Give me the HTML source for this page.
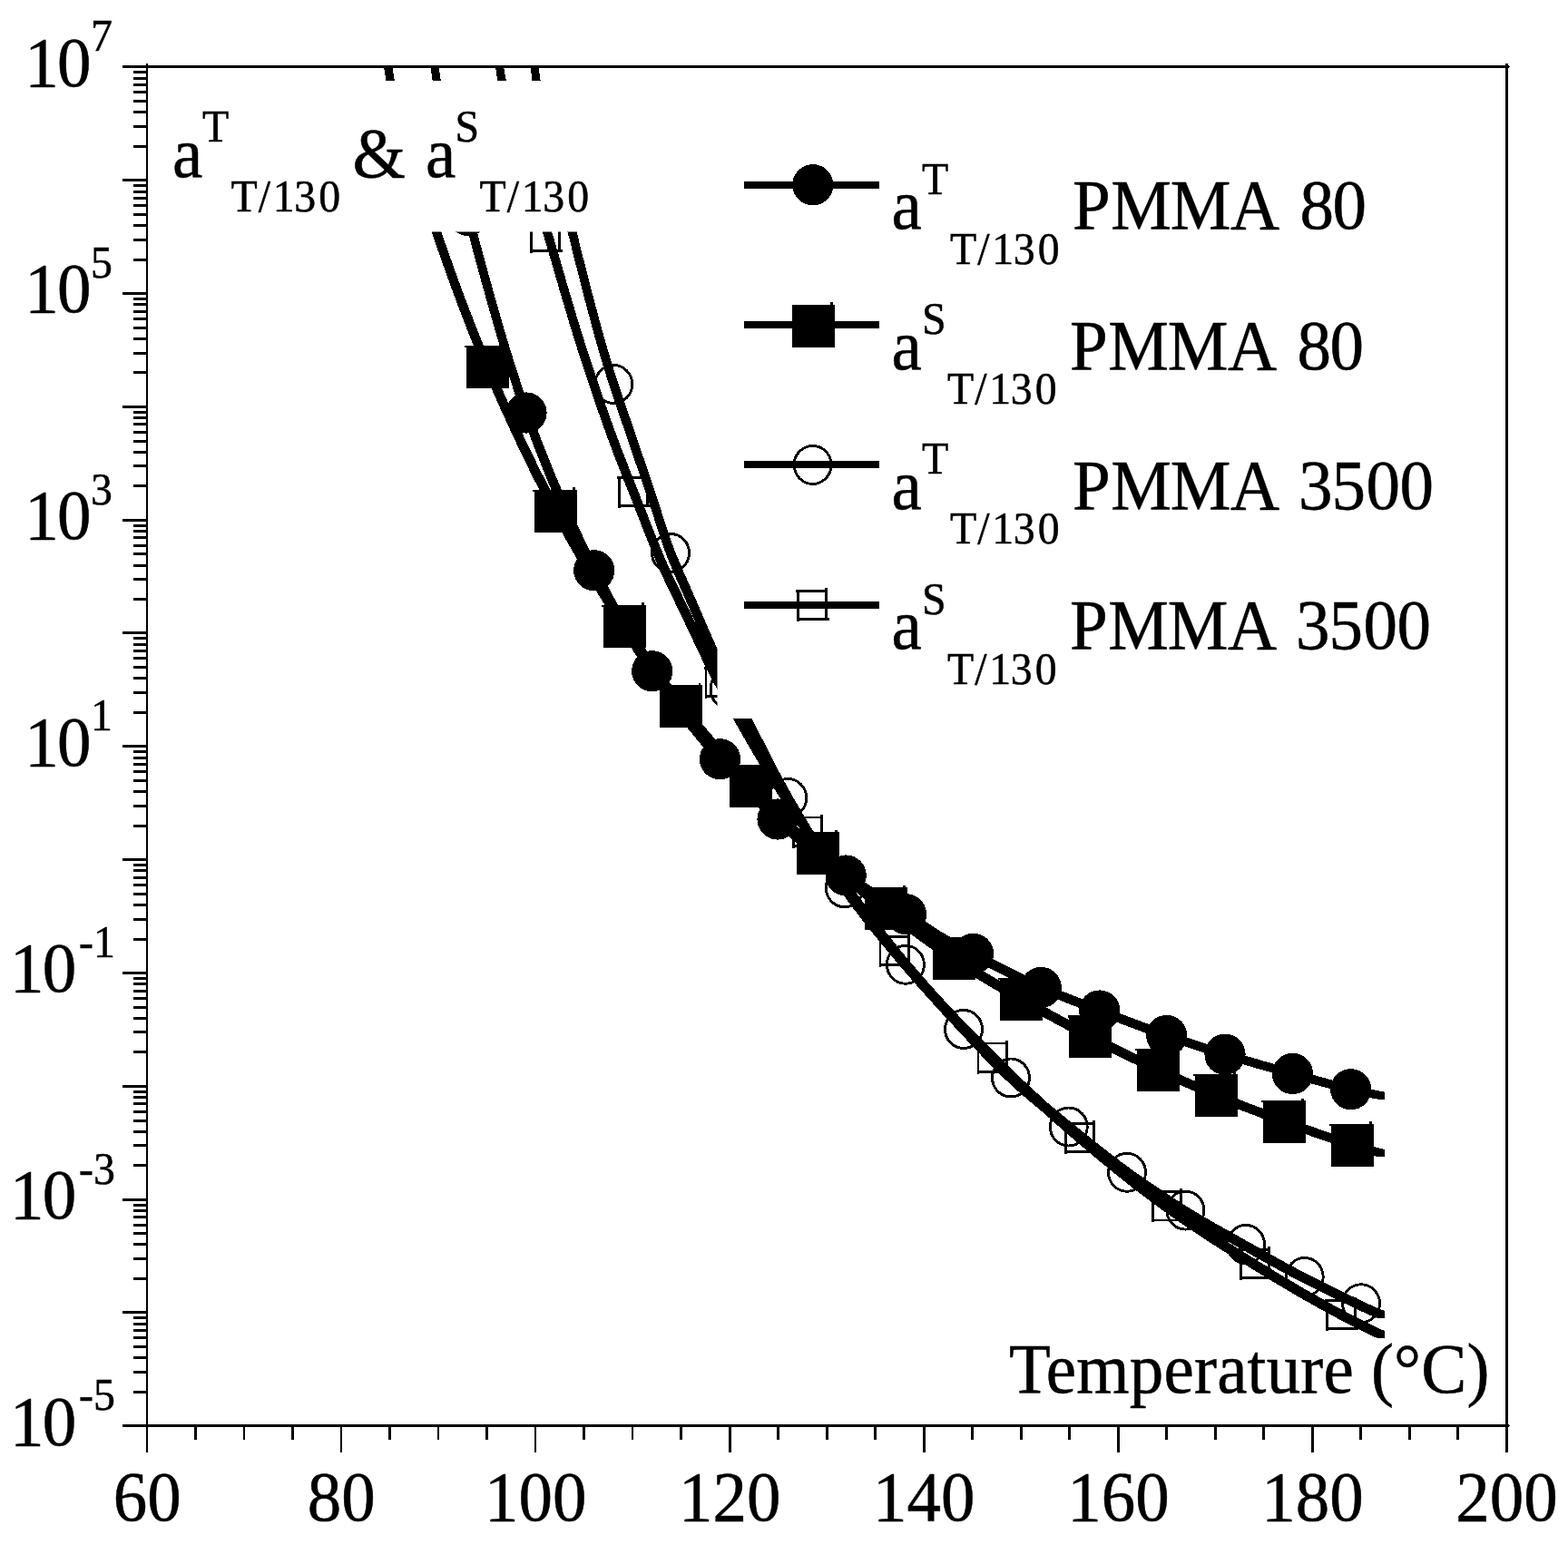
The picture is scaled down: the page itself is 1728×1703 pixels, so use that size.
<!DOCTYPE html>
<html lang="en"><head><meta charset="utf-8"><title>Shift factors PMMA</title>
<style>html,body{margin:0;padding:0;background:#fff;}body{width:1728px;height:1703px;overflow:hidden;}svg{display:block;}text{font-family:"Liberation Serif",serif;fill:#000;stroke:#000;stroke-width:0.5px;}</style>
</head><body>
<svg width="1728" height="1703" viewBox="0 0 1728 1703">
<rect x="0" y="0" width="1728" height="1703" fill="#fff"/>
<defs><clipPath id="plot"><rect x="162.15" y="73.5" width="1498.35" height="1497.85"/></clipPath></defs>
<g clip-path="url(#plot)" shape-rendering="crispEdges">
<path d="M584.00,244.00 H618.00 V278.00 H584.00 Z M586.80,246.80 V275.20 H615.20 V246.80 Z M615.20,242.00 h2.80 v2 h-2.80 Z M618.00,275.20 h2 v2.80 h-2 Z M584.00,278.00 h2.80 v1 h-2.80 Z M583.00,244.00 h1 v2.80 h-1 Z" fill="#000" fill-rule="evenodd"/>
<path d="M681.00,525.00 H715.00 V559.00 H681.00 Z M683.80,527.80 V556.20 H712.20 V527.80 Z M712.20,523.00 h2.80 v2 h-2.80 Z M715.00,556.20 h2 v2.80 h-2 Z M681.00,559.00 h2.80 v1 h-2.80 Z M680.00,525.00 h1 v2.80 h-1 Z" fill="#000" fill-rule="evenodd"/>
<path d="M776.50,735.00 H810.50 V769.00 H776.50 Z M779.30,737.80 V766.20 H807.70 V737.80 Z M807.70,733.00 h2.80 v2 h-2.80 Z M810.50,766.20 h2 v2.80 h-2 Z M776.50,769.00 h2.80 v1 h-2.80 Z M775.50,735.00 h1 v2.80 h-1 Z" fill="#000" fill-rule="evenodd"/>
<path d="M873.00,899.50 H907.00 V933.50 H873.00 Z M875.80,902.30 V930.70 H904.20 V902.30 Z M904.20,897.50 h2.80 v2 h-2.80 Z M907.00,930.70 h2 v2.80 h-2 Z M873.00,933.50 h2.80 v1 h-2.80 Z M872.00,899.50 h1 v2.80 h-1 Z" fill="#000" fill-rule="evenodd"/>
<path d="M968.60,1031.00 H1002.60 V1065.00 H968.60 Z M971.40,1033.80 V1062.20 H999.80 V1033.80 Z M999.80,1029.00 h2.80 v2 h-2.80 Z M1002.60,1062.20 h2 v2.80 h-2 Z M968.60,1065.00 h2.80 v1 h-2.80 Z M967.60,1031.00 h1 v2.80 h-1 Z" fill="#000" fill-rule="evenodd"/>
<path d="M1076.50,1148.50 H1110.50 V1182.50 H1076.50 Z M1079.30,1151.30 V1179.70 H1107.70 V1151.30 Z M1107.70,1146.50 h2.80 v2 h-2.80 Z M1110.50,1179.70 h2 v2.80 h-2 Z M1076.50,1182.50 h2.80 v1 h-2.80 Z M1075.50,1148.50 h1 v2.80 h-1 Z" fill="#000" fill-rule="evenodd"/>
<path d="M1173.00,1237.25 H1207.00 V1271.25 H1173.00 Z M1175.80,1240.05 V1268.45 H1204.20 V1240.05 Z M1204.20,1235.25 h2.80 v2 h-2.80 Z M1207.00,1268.45 h2 v2.80 h-2 Z M1173.00,1271.25 h2.80 v1 h-2.80 Z M1172.00,1237.25 h1 v2.80 h-1 Z" fill="#000" fill-rule="evenodd"/>
<path d="M1269.00,1312.40 H1303.00 V1346.40 H1269.00 Z M1271.80,1315.20 V1343.60 H1300.20 V1315.20 Z M1300.20,1310.40 h2.80 v2 h-2.80 Z M1303.00,1343.60 h2 v2.80 h-2 Z M1269.00,1346.40 h2.80 v1 h-2.80 Z M1268.00,1312.40 h1 v2.80 h-1 Z" fill="#000" fill-rule="evenodd"/>
<path d="M1366.00,1376.25 H1400.00 V1410.25 H1366.00 Z M1368.80,1379.05 V1407.45 H1397.20 V1379.05 Z M1397.20,1374.25 h2.80 v2 h-2.80 Z M1400.00,1407.45 h2 v2.80 h-2 Z M1366.00,1410.25 h2.80 v1 h-2.80 Z M1365.00,1376.25 h1 v2.80 h-1 Z" fill="#000" fill-rule="evenodd"/>
<path d="M1461.00,1432.25 H1495.00 V1466.25 H1461.00 Z M1463.80,1435.05 V1463.45 H1492.20 V1435.05 Z M1492.20,1430.25 h2.80 v2 h-2.80 Z M1495.00,1463.45 h2 v2.80 h-2 Z M1461.00,1466.25 h2.80 v1 h-2.80 Z M1460.00,1432.25 h1 v2.80 h-1 Z" fill="#000" fill-rule="evenodd"/>
<ellipse cx="676.25" cy="423.50" rx="20.45" ry="21" fill="none" stroke="#000" stroke-width="2.9"/>
<ellipse cx="739.00" cy="609.50" rx="20.45" ry="21" fill="none" stroke="#000" stroke-width="2.9"/>
<ellipse cx="803.50" cy="759.70" rx="20.45" ry="21" fill="none" stroke="#000" stroke-width="2.9"/>
<ellipse cx="868.25" cy="879.50" rx="20.45" ry="21" fill="none" stroke="#000" stroke-width="2.9"/>
<ellipse cx="930.75" cy="978.75" rx="20.45" ry="21" fill="none" stroke="#000" stroke-width="2.9"/>
<ellipse cx="997.90" cy="1063.25" rx="20.45" ry="21" fill="none" stroke="#000" stroke-width="2.9"/>
<ellipse cx="1062.00" cy="1134.50" rx="20.45" ry="21" fill="none" stroke="#000" stroke-width="2.9"/>
<ellipse cx="1114.00" cy="1188.00" rx="20.45" ry="21" fill="none" stroke="#000" stroke-width="2.9"/>
<ellipse cx="1177.75" cy="1242.00" rx="20.45" ry="21" fill="none" stroke="#000" stroke-width="2.9"/>
<ellipse cx="1242.00" cy="1292.25" rx="20.45" ry="21" fill="none" stroke="#000" stroke-width="2.9"/>
<ellipse cx="1306.40" cy="1334.10" rx="20.45" ry="21" fill="none" stroke="#000" stroke-width="2.9"/>
<ellipse cx="1373.00" cy="1371.50" rx="20.45" ry="21" fill="none" stroke="#000" stroke-width="2.9"/>
<ellipse cx="1437.75" cy="1407.50" rx="20.45" ry="21" fill="none" stroke="#000" stroke-width="2.9"/>
<ellipse cx="1500.00" cy="1436.75" rx="20.45" ry="21" fill="none" stroke="#000" stroke-width="2.9"/>
<path d="M418.0,36.0 L426.0,36.0 L428.9,53.1 L431.8,70.9 L434.7,88.3 L437.6,101.6 L440.5,114.1 L443.4,125.7 L446.3,136.8 L449.2,147.2 L452.1,157.0 L455.0,166.4 L457.9,175.4 L460.8,184.0 L463.7,192.3 L466.6,200.5 L469.5,208.5 L472.4,216.4 L475.3,224.3 L478.2,232.3 L481.1,240.4 L484.0,248.6 L486.9,257.1 L489.8,265.5 L492.7,273.9 L495.6,282.1 L498.5,290.3 L501.4,298.3 L504.3,306.3 L507.2,314.2 L510.1,322.1 L513.0,329.8 L515.9,337.5 L518.8,345.0 L521.7,352.5 L524.6,359.9 L527.5,367.2 L530.4,374.5 L533.3,381.6 L536.2,388.6 L539.1,395.6 L542.0,402.5 L544.9,409.3 L547.8,416.0 L550.7,422.7 L553.6,429.3 L556.5,435.9 L559.4,442.4 L562.3,448.8 L565.3,455.2 L568.2,461.6 L571.1,467.9 L574.0,474.1 L576.9,480.2 L579.8,486.4 L582.7,492.4 L585.6,498.4 L588.5,504.4 L591.4,510.3 L594.3,516.1 L597.2,521.9 L600.1,527.6 L603.0,533.3 L605.9,539.0 L608.8,544.6 L611.7,550.1 L614.6,555.6 L617.5,561.0 L620.4,566.4 L623.3,571.7 L626.2,577.0 L629.1,582.2 L632.0,587.4 L634.9,592.6 L637.8,597.7 L640.7,602.7 L643.6,607.7 L646.5,612.7 L649.4,617.6 L652.3,622.5 L655.2,627.4 L658.1,632.2 L661.0,637.0 L663.9,641.7 L666.8,646.4 L669.7,651.1 L672.6,655.7 L675.5,660.3 L678.4,664.9 L681.3,669.5 L684.2,674.0 L687.1,678.5 L690.0,682.9 L692.9,687.4 L695.8,691.8 L698.7,696.2 L701.6,700.5 L704.5,704.8 L707.4,709.1 L710.3,713.4 L713.2,717.6 L716.1,721.8 L719.0,725.9 L721.9,730.1 L724.8,734.2 L727.7,738.2 L730.6,742.2 L733.5,746.2 L736.4,750.2 L739.3,754.1 L742.2,758.0 L745.1,761.8 L748.0,765.6 L750.9,769.4 L753.8,773.1 L756.7,776.7 L759.6,780.4 L762.5,784.0 L765.4,787.6 L768.3,791.1 L771.2,794.6 L774.1,798.1 L777.0,801.6 L779.9,805.0 L782.8,808.4 L785.7,811.8 L788.6,815.1 L791.5,818.5 L794.4,821.8 L797.3,825.1 L800.2,828.3 L803.1,831.6 L806.0,834.8 L808.9,838.0 L811.8,841.2 L814.7,844.4 L817.6,847.5 L820.5,850.7 L823.4,853.8 L826.3,857.0 L829.2,860.1 L832.1,863.2 L835.0,866.3 L837.9,869.4 L840.9,872.4 L843.8,875.5 L846.7,878.5 L849.6,881.6 L852.5,884.6 L855.4,887.6 L858.3,890.6 L861.2,893.6 L864.1,896.5 L867.0,899.5 L869.9,902.4 L872.8,905.3 L875.7,908.2 L878.6,911.0 L881.5,913.9 L884.4,916.7 L887.3,919.5 L890.2,922.3 L893.1,925.0 L896.0,927.7 L898.9,930.4 L901.8,933.1 L904.7,935.7 L907.6,938.3 L910.5,940.9 L913.4,943.5 L916.3,946.0 L919.2,948.6 L922.1,951.1 L925.0,953.5 L927.9,956.0 L930.8,958.4 L933.7,960.9 L936.6,963.3 L939.5,965.7 L942.4,968.1 L945.3,970.4 L948.2,972.8 L951.1,975.1 L954.0,977.4 L956.9,979.7 L959.8,982.0 L962.7,984.3 L965.6,986.6 L968.5,988.8 L971.4,991.1 L974.3,993.3 L977.2,995.6 L980.1,997.8 L983.0,1000.1 L985.9,1002.3 L988.8,1004.5 L991.7,1006.7 L994.6,1008.9 L997.5,1011.1 L1000.4,1013.3 L1003.3,1015.4 L1006.2,1017.6 L1009.1,1019.8 L1012.0,1021.9 L1014.9,1024.0 L1017.8,1026.1 L1020.7,1028.2 L1023.6,1030.3 L1026.5,1032.4 L1029.4,1034.5 L1032.3,1036.5 L1035.2,1038.5 L1038.1,1040.6 L1041.0,1042.6 L1043.9,1044.6 L1046.8,1046.5 L1049.7,1048.5 L1052.6,1050.4 L1055.5,1052.3 L1058.4,1054.3 L1061.3,1056.1 L1064.2,1058.0 L1067.1,1059.9 L1070.0,1061.7 L1072.9,1063.5 L1075.8,1065.4 L1078.7,1067.2 L1081.6,1069.0 L1084.5,1070.7 L1087.4,1072.5 L1090.3,1074.3 L1093.2,1076.0 L1096.1,1077.8 L1099.0,1079.5 L1101.9,1081.2 L1104.8,1082.9 L1107.7,1084.6 L1110.6,1086.3 L1113.6,1088.0 L1116.5,1089.7 L1119.4,1091.4 L1122.3,1093.1 L1125.2,1094.8 L1128.1,1096.4 L1131.0,1098.1 L1133.9,1099.7 L1136.8,1101.4 L1139.7,1103.0 L1142.6,1104.7 L1145.5,1106.3 L1148.4,1107.9 L1151.3,1109.6 L1154.2,1111.2 L1157.1,1112.8 L1160.0,1114.4 L1162.9,1116.0 L1165.8,1117.6 L1168.7,1119.1 L1171.6,1120.7 L1174.5,1122.3 L1177.4,1123.8 L1180.3,1125.4 L1183.2,1126.9 L1186.1,1128.5 L1189.0,1130.0 L1191.9,1131.5 L1194.8,1133.1 L1197.7,1134.6 L1200.6,1136.1 L1203.5,1137.6 L1206.4,1139.1 L1209.3,1140.6 L1212.2,1142.1 L1215.1,1143.5 L1218.0,1145.0 L1220.9,1146.5 L1223.8,1147.9 L1226.7,1149.4 L1229.6,1150.8 L1232.5,1152.3 L1235.4,1153.7 L1238.3,1155.2 L1241.2,1156.6 L1244.1,1158.0 L1247.0,1159.4 L1249.9,1160.8 L1252.8,1162.2 L1255.7,1163.6 L1258.6,1165.0 L1261.5,1166.4 L1264.4,1167.8 L1267.3,1169.1 L1270.2,1170.5 L1273.1,1171.9 L1276.0,1173.2 L1278.9,1174.6 L1281.8,1175.9 L1284.7,1177.2 L1287.6,1178.6 L1290.5,1179.9 L1293.4,1181.2 L1296.3,1182.5 L1299.2,1183.8 L1302.1,1185.1 L1305.0,1186.4 L1307.9,1187.7 L1310.8,1189.0 L1313.7,1190.3 L1316.6,1191.5 L1319.5,1192.8 L1322.4,1194.0 L1325.3,1195.3 L1328.2,1196.5 L1331.1,1197.8 L1334.0,1199.0 L1336.9,1200.2 L1339.8,1201.4 L1342.7,1202.6 L1345.6,1203.8 L1348.5,1205.0 L1351.4,1206.2 L1354.3,1207.4 L1357.2,1208.5 L1360.1,1209.7 L1363.0,1210.9 L1365.9,1212.0 L1368.8,1213.2 L1371.7,1214.3 L1374.6,1215.4 L1377.5,1216.6 L1380.4,1217.7 L1383.3,1218.8 L1386.2,1219.9 L1389.2,1221.0 L1392.1,1222.1 L1395.0,1223.2 L1397.9,1224.3 L1400.8,1225.4 L1403.7,1226.5 L1406.6,1227.6 L1409.5,1228.7 L1412.4,1229.7 L1415.3,1230.8 L1418.2,1231.9 L1421.1,1232.9 L1424.0,1234.0 L1426.9,1235.0 L1429.8,1236.1 L1432.7,1237.1 L1435.6,1238.2 L1438.5,1239.2 L1441.4,1240.3 L1444.3,1241.3 L1447.2,1242.3 L1450.1,1243.3 L1453.0,1244.4 L1455.9,1245.4 L1458.8,1246.4 L1461.7,1247.4 L1464.6,1248.4 L1467.5,1249.4 L1470.4,1250.4 L1473.3,1251.3 L1476.2,1252.3 L1479.1,1253.3 L1482.0,1254.2 L1484.9,1255.1 L1487.8,1256.1 L1490.7,1257.0 L1493.6,1257.9 L1496.5,1258.8 L1499.4,1259.6 L1502.3,1260.5 L1505.2,1261.4 L1508.1,1262.2 L1511.0,1263.0 L1513.9,1263.9 L1516.8,1264.7 L1519.7,1265.5 L1522.6,1266.2 L1525.5,1267.0 L1525.5,1275.0 L1517.5,1275.0 L1514.6,1274.2 L1511.7,1273.5 L1508.8,1272.7 L1505.9,1271.9 L1503.0,1271.0 L1500.1,1270.2 L1497.2,1269.4 L1494.3,1268.5 L1491.4,1267.6 L1488.5,1266.8 L1485.6,1265.9 L1482.7,1265.0 L1479.8,1264.1 L1476.9,1263.1 L1474.0,1262.2 L1471.1,1261.3 L1468.2,1260.3 L1465.3,1259.3 L1462.4,1258.4 L1459.5,1257.4 L1456.6,1256.4 L1453.7,1255.4 L1450.8,1254.4 L1447.9,1253.4 L1445.0,1252.4 L1442.1,1251.3 L1439.2,1250.3 L1436.3,1249.3 L1433.4,1248.3 L1430.5,1247.2 L1427.6,1246.2 L1424.7,1245.1 L1421.8,1244.1 L1418.9,1243.0 L1416.0,1242.0 L1413.1,1240.9 L1410.2,1239.9 L1407.3,1238.8 L1404.4,1237.7 L1401.5,1236.7 L1398.6,1235.6 L1395.7,1234.5 L1392.8,1233.4 L1389.9,1232.3 L1387.0,1231.2 L1384.1,1230.1 L1381.2,1229.0 L1378.2,1227.9 L1375.3,1226.8 L1372.4,1225.7 L1369.5,1224.6 L1366.6,1223.4 L1363.7,1222.3 L1360.8,1221.2 L1357.9,1220.0 L1355.0,1218.9 L1352.1,1217.7 L1349.2,1216.5 L1346.3,1215.4 L1343.4,1214.2 L1340.5,1213.0 L1337.6,1211.8 L1334.7,1210.6 L1331.8,1209.4 L1328.9,1208.2 L1326.0,1207.0 L1323.1,1205.8 L1320.2,1204.5 L1317.3,1203.3 L1314.4,1202.0 L1311.5,1200.8 L1308.6,1199.5 L1305.7,1198.3 L1302.8,1197.0 L1299.9,1195.7 L1297.0,1194.4 L1294.1,1193.1 L1291.2,1191.8 L1288.3,1190.5 L1285.4,1189.2 L1282.5,1187.9 L1279.6,1186.6 L1276.7,1185.2 L1273.8,1183.9 L1270.9,1182.6 L1268.0,1181.2 L1265.1,1179.9 L1262.2,1178.5 L1259.3,1177.1 L1256.4,1175.8 L1253.5,1174.4 L1250.6,1173.0 L1247.7,1171.6 L1244.8,1170.2 L1241.9,1168.8 L1239.0,1167.4 L1236.1,1166.0 L1233.2,1164.6 L1230.3,1163.2 L1227.4,1161.7 L1224.5,1160.3 L1221.6,1158.8 L1218.7,1157.4 L1215.8,1155.9 L1212.9,1154.5 L1210.0,1153.0 L1207.1,1151.5 L1204.2,1150.1 L1201.3,1148.6 L1198.4,1147.1 L1195.5,1145.6 L1192.6,1144.1 L1189.7,1142.6 L1186.8,1141.1 L1183.9,1139.5 L1181.0,1138.0 L1178.1,1136.5 L1175.2,1134.9 L1172.3,1133.4 L1169.4,1131.8 L1166.5,1130.3 L1163.6,1128.7 L1160.7,1127.1 L1157.8,1125.6 L1154.9,1124.0 L1152.0,1122.4 L1149.1,1120.8 L1146.2,1119.2 L1143.3,1117.6 L1140.4,1115.9 L1137.5,1114.3 L1134.6,1112.7 L1131.7,1111.0 L1128.8,1109.4 L1125.9,1107.7 L1123.0,1106.1 L1120.1,1104.4 L1117.2,1102.8 L1114.3,1101.1 L1111.4,1099.4 L1108.5,1097.7 L1105.6,1096.0 L1102.6,1094.3 L1099.7,1092.6 L1096.8,1090.9 L1093.9,1089.2 L1091.0,1087.5 L1088.1,1085.8 L1085.2,1084.0 L1082.3,1082.3 L1079.4,1080.5 L1076.5,1078.7 L1073.6,1077.0 L1070.7,1075.2 L1067.8,1073.4 L1064.9,1071.5 L1062.0,1069.7 L1059.1,1067.9 L1056.2,1066.0 L1053.3,1064.1 L1050.4,1062.3 L1047.5,1060.3 L1044.6,1058.4 L1041.7,1056.5 L1038.8,1054.5 L1035.9,1052.6 L1033.0,1050.6 L1030.1,1048.6 L1027.2,1046.5 L1024.3,1044.5 L1021.4,1042.5 L1018.5,1040.4 L1015.6,1038.3 L1012.7,1036.2 L1009.8,1034.1 L1006.9,1032.0 L1004.0,1029.9 L1001.1,1027.8 L998.2,1025.6 L995.3,1023.4 L992.4,1021.3 L989.5,1019.1 L986.6,1016.9 L983.7,1014.7 L980.8,1012.5 L977.9,1010.3 L975.0,1008.1 L972.1,1005.8 L969.2,1003.6 L966.3,1001.3 L963.4,999.1 L960.5,996.8 L957.6,994.6 L954.7,992.3 L951.8,990.0 L948.9,987.7 L946.0,985.4 L943.1,983.1 L940.2,980.8 L937.3,978.4 L934.4,976.1 L931.5,973.7 L928.6,971.3 L925.7,968.9 L922.8,966.4 L919.9,964.0 L917.0,961.5 L914.1,959.1 L911.2,956.6 L908.3,954.0 L905.4,951.5 L902.5,948.9 L899.6,946.3 L896.7,943.7 L893.8,941.1 L890.9,938.4 L888.0,935.7 L885.1,933.0 L882.2,930.3 L879.3,927.5 L876.4,924.7 L873.5,921.9 L870.6,919.0 L867.7,916.2 L864.8,913.3 L861.9,910.4 L859.0,907.5 L856.1,904.5 L853.2,901.6 L850.3,898.6 L847.4,895.6 L844.5,892.6 L841.6,889.6 L838.7,886.5 L835.8,883.5 L832.9,880.4 L829.9,877.4 L827.0,874.3 L824.1,871.2 L821.2,868.1 L818.3,865.0 L815.4,861.8 L812.5,858.7 L809.6,855.5 L806.7,852.4 L803.8,849.2 L800.9,846.0 L798.0,842.8 L795.1,839.6 L792.2,836.3 L789.3,833.1 L786.4,829.8 L783.5,826.5 L780.6,823.1 L777.7,819.8 L774.8,816.4 L771.9,813.0 L769.0,809.6 L766.1,806.1 L763.2,802.6 L760.3,799.1 L757.4,795.6 L754.5,792.0 L751.6,788.4 L748.7,784.7 L745.8,781.1 L742.9,777.4 L740.0,773.6 L737.1,769.8 L734.2,766.0 L731.3,762.1 L728.4,758.2 L725.5,754.2 L722.6,750.2 L719.7,746.2 L716.8,742.2 L713.9,738.1 L711.0,733.9 L708.1,729.8 L705.2,725.6 L702.3,721.4 L699.4,717.1 L696.5,712.8 L693.6,708.5 L690.7,704.2 L687.8,699.8 L684.9,695.4 L682.0,690.9 L679.1,686.5 L676.2,682.0 L673.3,677.5 L670.4,672.9 L667.5,668.3 L664.6,663.7 L661.7,659.1 L658.8,654.4 L655.9,649.7 L653.0,645.0 L650.1,640.2 L647.2,635.4 L644.3,630.5 L641.4,625.6 L638.5,620.7 L635.6,615.7 L632.7,610.7 L629.8,605.7 L626.9,600.6 L624.0,595.4 L621.1,590.2 L618.2,585.0 L615.3,579.7 L612.4,574.4 L609.5,569.0 L606.6,563.6 L603.7,558.1 L600.8,552.6 L597.9,547.0 L595.0,541.3 L592.1,535.6 L589.2,529.9 L586.3,524.1 L583.4,518.3 L580.5,512.4 L577.6,506.4 L574.7,500.4 L571.8,494.4 L568.9,488.2 L566.0,482.1 L563.1,475.9 L560.2,469.6 L557.3,463.2 L554.3,456.8 L551.4,450.4 L548.5,443.9 L545.6,437.3 L542.7,430.7 L539.8,424.0 L536.9,417.3 L534.0,410.5 L531.1,403.6 L528.2,396.6 L525.3,389.6 L522.4,382.5 L519.5,375.2 L516.6,367.9 L513.7,360.5 L510.8,353.0 L507.9,345.5 L505.0,337.8 L502.1,330.1 L499.2,322.2 L496.3,314.3 L493.4,306.3 L490.5,298.3 L487.6,290.1 L484.7,281.9 L481.8,273.5 L478.9,265.1 L476.0,256.6 L473.1,248.4 L470.2,240.3 L467.3,232.3 L464.4,224.4 L461.5,216.5 L458.6,208.5 L455.7,200.3 L452.8,192.0 L449.9,183.4 L447.0,174.4 L444.1,165.0 L441.2,155.2 L438.3,144.8 L435.4,133.7 L432.5,122.1 L429.6,109.6 L426.7,96.3 L423.8,78.9 L420.9,61.1 L418.0,44.0Z" fill="#000"/>
<path d="M470.0,36.0 L478.0,36.0 L480.8,53.2 L483.5,73.2 L486.3,92.7 L489.1,108.3 L491.8,122.6 L494.6,135.9 L497.3,148.2 L500.1,159.8 L502.9,170.7 L505.6,181.2 L508.4,191.3 L511.2,201.2 L513.9,211.1 L516.7,221.2 L519.5,231.4 L522.2,242.0 L525.0,252.4 L527.7,262.8 L530.5,273.2 L533.3,283.5 L536.0,293.6 L538.8,303.8 L541.6,313.8 L544.3,323.7 L547.1,333.5 L549.9,343.2 L552.6,352.7 L555.4,362.2 L558.2,371.5 L560.9,380.7 L563.7,389.7 L566.4,398.6 L569.2,407.3 L572.0,415.8 L574.7,424.2 L577.5,432.4 L580.3,440.5 L583.0,448.3 L585.8,455.9 L588.6,463.5 L591.3,470.9 L594.1,478.2 L596.8,485.5 L599.6,492.6 L602.4,499.6 L605.1,506.5 L607.9,513.3 L610.7,520.1 L613.4,526.7 L616.2,533.2 L619.0,539.7 L621.7,546.1 L624.5,552.4 L627.2,558.6 L630.0,564.8 L632.8,570.8 L635.5,576.8 L638.3,582.8 L641.1,588.6 L643.8,594.4 L646.6,600.2 L649.4,605.9 L652.1,611.5 L654.9,617.1 L657.7,622.6 L660.4,628.0 L663.2,633.4 L665.9,638.8 L668.7,644.1 L671.5,649.3 L674.2,654.5 L677.0,659.6 L679.8,664.6 L682.5,669.6 L685.3,674.6 L688.1,679.5 L690.8,684.3 L693.6,689.0 L696.3,693.7 L699.1,698.4 L701.9,703.0 L704.6,707.5 L707.4,712.0 L710.2,716.4 L712.9,720.7 L715.7,725.0 L718.5,729.3 L721.2,733.5 L724.0,737.6 L726.7,741.7 L729.5,745.7 L732.3,749.7 L735.0,753.6 L737.8,757.5 L740.6,761.3 L743.3,765.1 L746.1,768.9 L748.9,772.6 L751.6,776.3 L754.4,779.9 L757.1,783.6 L759.9,787.1 L762.7,790.7 L765.4,794.2 L768.2,797.6 L771.0,801.1 L773.7,804.5 L776.5,807.9 L779.3,811.2 L782.0,814.6 L784.8,817.9 L787.6,821.1 L790.3,824.4 L793.1,827.6 L795.8,830.8 L798.6,834.0 L801.4,837.2 L804.1,840.3 L806.9,843.4 L809.7,846.5 L812.4,849.6 L815.2,852.6 L818.0,855.7 L820.7,858.6 L823.5,861.6 L826.2,864.5 L829.0,867.4 L831.8,870.3 L834.5,873.2 L837.3,876.0 L840.1,878.8 L842.8,881.6 L845.6,884.3 L848.4,887.0 L851.1,889.7 L853.9,892.3 L856.6,894.9 L859.4,897.5 L862.2,900.1 L864.9,902.6 L867.7,905.1 L870.5,907.6 L873.2,910.1 L876.0,912.6 L878.8,915.0 L881.5,917.4 L884.3,919.8 L887.1,922.2 L889.8,924.5 L892.6,926.9 L895.3,929.2 L898.1,931.5 L900.9,933.7 L903.6,936.0 L906.4,938.2 L909.2,940.4 L911.9,942.6 L914.7,944.8 L917.5,946.9 L920.2,949.1 L923.0,951.2 L925.7,953.3 L928.5,955.3 L931.3,957.4 L934.0,959.4 L936.8,961.4 L939.6,963.4 L942.3,965.3 L945.1,967.2 L947.9,969.1 L950.6,970.9 L953.4,972.7 L956.1,974.5 L958.9,976.3 L961.7,978.1 L964.4,979.8 L967.2,981.6 L970.0,983.3 L972.7,985.0 L975.5,986.7 L978.3,988.4 L981.0,990.1 L983.8,991.9 L986.5,993.6 L989.3,995.3 L992.1,997.1 L994.8,998.8 L997.6,1000.6 L1000.4,1002.4 L1003.1,1004.2 L1005.9,1006.0 L1008.7,1007.9 L1011.4,1009.8 L1014.2,1011.7 L1017.0,1013.6 L1019.7,1015.5 L1022.5,1017.4 L1025.2,1019.3 L1028.0,1021.1 L1030.8,1022.9 L1033.5,1024.7 L1036.3,1026.4 L1039.1,1028.0 L1041.8,1029.6 L1044.6,1031.1 L1047.4,1032.6 L1050.1,1034.0 L1052.9,1035.5 L1055.6,1036.8 L1058.4,1038.2 L1061.2,1039.6 L1063.9,1040.9 L1066.7,1042.3 L1069.5,1043.7 L1072.2,1045.1 L1075.0,1046.5 L1077.8,1047.9 L1080.5,1049.4 L1083.3,1050.9 L1086.0,1052.3 L1088.8,1053.8 L1091.6,1055.3 L1094.3,1056.9 L1097.1,1058.4 L1099.9,1059.8 L1102.6,1061.3 L1105.4,1062.8 L1108.2,1064.2 L1110.9,1065.7 L1113.7,1067.0 L1116.4,1068.4 L1119.2,1069.8 L1122.0,1071.1 L1124.7,1072.4 L1127.5,1073.8 L1130.3,1075.1 L1133.0,1076.3 L1135.8,1077.6 L1138.6,1078.9 L1141.3,1080.1 L1144.1,1081.4 L1146.9,1082.6 L1149.6,1083.8 L1152.4,1085.0 L1155.1,1086.2 L1157.9,1087.3 L1160.7,1088.5 L1163.4,1089.6 L1166.2,1090.7 L1169.0,1091.9 L1171.7,1093.0 L1174.5,1094.1 L1177.3,1095.2 L1180.0,1096.3 L1182.8,1097.3 L1185.5,1098.4 L1188.3,1099.5 L1191.1,1100.6 L1193.8,1101.6 L1196.6,1102.7 L1199.4,1103.7 L1202.1,1104.8 L1204.9,1105.9 L1207.7,1106.9 L1210.4,1108.0 L1213.2,1109.0 L1215.9,1110.1 L1218.7,1111.1 L1221.5,1112.2 L1224.2,1113.3 L1227.0,1114.3 L1229.8,1115.4 L1232.5,1116.4 L1235.3,1117.5 L1238.1,1118.5 L1240.8,1119.6 L1243.6,1120.6 L1246.4,1121.7 L1249.1,1122.7 L1251.9,1123.8 L1254.6,1124.8 L1257.4,1125.8 L1260.2,1126.9 L1262.9,1127.9 L1265.7,1128.9 L1268.5,1129.9 L1271.2,1130.9 L1274.0,1131.9 L1276.8,1132.9 L1279.5,1133.9 L1282.3,1134.9 L1285.0,1135.9 L1287.8,1136.8 L1290.6,1137.8 L1293.3,1138.7 L1296.1,1139.7 L1298.9,1140.6 L1301.6,1141.5 L1304.4,1142.5 L1307.2,1143.4 L1309.9,1144.3 L1312.7,1145.2 L1315.4,1146.1 L1318.2,1147.0 L1321.0,1147.9 L1323.7,1148.8 L1326.5,1149.7 L1329.3,1150.6 L1332.0,1151.4 L1334.8,1152.3 L1337.6,1153.2 L1340.3,1154.0 L1343.1,1154.9 L1345.8,1155.8 L1348.6,1156.6 L1351.4,1157.5 L1354.1,1158.3 L1356.9,1159.1 L1359.7,1160.0 L1362.4,1160.8 L1365.2,1161.6 L1368.0,1162.4 L1370.7,1163.2 L1373.5,1164.0 L1376.3,1164.8 L1379.0,1165.6 L1381.8,1166.4 L1384.5,1167.2 L1387.3,1168.0 L1390.1,1168.8 L1392.8,1169.6 L1395.6,1170.4 L1398.4,1171.1 L1401.1,1171.9 L1403.9,1172.7 L1406.7,1173.4 L1409.4,1174.2 L1412.2,1175.0 L1414.9,1175.8 L1417.7,1176.5 L1420.5,1177.3 L1423.2,1178.0 L1426.0,1178.8 L1428.8,1179.6 L1431.5,1180.3 L1434.3,1181.1 L1437.1,1181.9 L1439.8,1182.7 L1442.6,1183.4 L1445.3,1184.2 L1448.1,1185.0 L1450.9,1185.8 L1453.6,1186.6 L1456.4,1187.3 L1459.2,1188.1 L1461.9,1188.9 L1464.7,1189.6 L1467.5,1190.4 L1470.2,1191.1 L1473.0,1191.8 L1475.8,1192.6 L1478.5,1193.3 L1481.3,1194.0 L1484.0,1194.7 L1486.8,1195.3 L1489.6,1196.0 L1492.3,1196.7 L1495.1,1197.3 L1497.9,1197.9 L1500.6,1198.5 L1503.4,1199.1 L1506.2,1199.7 L1508.9,1200.2 L1511.7,1200.8 L1514.4,1201.3 L1517.2,1201.9 L1520.0,1202.4 L1522.7,1203.0 L1525.5,1203.5 L1525.5,1211.5 L1517.5,1211.5 L1514.7,1211.0 L1512.0,1210.4 L1509.2,1209.9 L1506.4,1209.3 L1503.7,1208.8 L1500.9,1208.2 L1498.2,1207.7 L1495.4,1207.1 L1492.6,1206.5 L1489.9,1205.9 L1487.1,1205.3 L1484.3,1204.7 L1481.6,1204.0 L1478.8,1203.3 L1476.0,1202.7 L1473.3,1202.0 L1470.5,1201.3 L1467.8,1200.6 L1465.0,1199.8 L1462.2,1199.1 L1459.5,1198.4 L1456.7,1197.6 L1453.9,1196.9 L1451.2,1196.1 L1448.4,1195.3 L1445.6,1194.6 L1442.9,1193.8 L1440.1,1193.0 L1437.3,1192.2 L1434.6,1191.4 L1431.8,1190.7 L1429.1,1189.9 L1426.3,1189.1 L1423.5,1188.3 L1420.8,1187.6 L1418.0,1186.8 L1415.2,1186.0 L1412.5,1185.3 L1409.7,1184.5 L1406.9,1183.8 L1404.2,1183.0 L1401.4,1182.2 L1398.7,1181.4 L1395.9,1180.7 L1393.1,1179.9 L1390.4,1179.1 L1387.6,1178.4 L1384.8,1177.6 L1382.1,1176.8 L1379.3,1176.0 L1376.5,1175.2 L1373.8,1174.4 L1371.0,1173.6 L1368.3,1172.8 L1365.5,1172.0 L1362.7,1171.2 L1360.0,1170.4 L1357.2,1169.6 L1354.4,1168.8 L1351.7,1168.0 L1348.9,1167.1 L1346.1,1166.3 L1343.4,1165.5 L1340.6,1164.6 L1337.8,1163.8 L1335.1,1162.9 L1332.3,1162.0 L1329.6,1161.2 L1326.8,1160.3 L1324.0,1159.4 L1321.3,1158.6 L1318.5,1157.7 L1315.7,1156.8 L1313.0,1155.9 L1310.2,1155.0 L1307.4,1154.1 L1304.7,1153.2 L1301.9,1152.3 L1299.2,1151.4 L1296.4,1150.5 L1293.6,1149.5 L1290.9,1148.6 L1288.1,1147.7 L1285.3,1146.7 L1282.6,1145.8 L1279.8,1144.8 L1277.0,1143.9 L1274.3,1142.9 L1271.5,1141.9 L1268.8,1140.9 L1266.0,1139.9 L1263.2,1138.9 L1260.5,1137.9 L1257.7,1136.9 L1254.9,1135.9 L1252.2,1134.9 L1249.4,1133.8 L1246.6,1132.8 L1243.9,1131.8 L1241.1,1130.7 L1238.4,1129.7 L1235.6,1128.6 L1232.8,1127.6 L1230.1,1126.5 L1227.3,1125.5 L1224.5,1124.4 L1221.8,1123.4 L1219.0,1122.3 L1216.2,1121.3 L1213.5,1120.2 L1210.7,1119.1 L1207.9,1118.1 L1205.2,1117.0 L1202.4,1116.0 L1199.7,1114.9 L1196.9,1113.9 L1194.1,1112.8 L1191.4,1111.7 L1188.6,1110.7 L1185.8,1109.6 L1183.1,1108.6 L1180.3,1107.5 L1177.5,1106.4 L1174.8,1105.3 L1172.0,1104.3 L1169.3,1103.2 L1166.5,1102.1 L1163.7,1101.0 L1161.0,1099.9 L1158.2,1098.7 L1155.4,1097.6 L1152.7,1096.5 L1149.9,1095.3 L1147.1,1094.2 L1144.4,1093.0 L1141.6,1091.8 L1138.9,1090.6 L1136.1,1089.4 L1133.3,1088.1 L1130.6,1086.9 L1127.8,1085.6 L1125.0,1084.3 L1122.3,1083.1 L1119.5,1081.8 L1116.7,1080.4 L1114.0,1079.1 L1111.2,1077.8 L1108.4,1076.4 L1105.7,1075.0 L1102.9,1073.7 L1100.2,1072.2 L1097.4,1070.8 L1094.6,1069.3 L1091.9,1067.8 L1089.1,1066.4 L1086.3,1064.9 L1083.6,1063.3 L1080.8,1061.8 L1078.0,1060.3 L1075.3,1058.9 L1072.5,1057.4 L1069.8,1055.9 L1067.0,1054.5 L1064.2,1053.1 L1061.5,1051.7 L1058.7,1050.3 L1055.9,1048.9 L1053.2,1047.6 L1050.4,1046.2 L1047.6,1044.8 L1044.9,1043.5 L1042.1,1042.0 L1039.4,1040.6 L1036.6,1039.1 L1033.8,1037.6 L1031.1,1036.0 L1028.3,1034.4 L1025.5,1032.7 L1022.8,1030.9 L1020.0,1029.1 L1017.2,1027.3 L1014.5,1025.4 L1011.7,1023.5 L1009.0,1021.6 L1006.2,1019.7 L1003.4,1017.8 L1000.7,1015.9 L997.9,1014.0 L995.1,1012.2 L992.4,1010.4 L989.6,1008.6 L986.8,1006.8 L984.1,1005.1 L981.3,1003.3 L978.5,1001.6 L975.8,999.9 L973.0,998.1 L970.3,996.4 L967.5,994.7 L964.7,993.0 L962.0,991.3 L959.2,989.6 L956.4,987.8 L953.7,986.1 L950.9,984.3 L948.1,982.5 L945.4,980.7 L942.6,978.9 L939.9,977.1 L937.1,975.2 L934.3,973.3 L931.6,971.4 L928.8,969.4 L926.0,967.4 L923.3,965.4 L920.5,963.3 L917.7,961.3 L915.0,959.2 L912.2,957.1 L909.5,954.9 L906.7,952.8 L903.9,950.6 L901.2,948.4 L898.4,946.2 L895.6,944.0 L892.9,941.7 L890.1,939.5 L887.3,937.2 L884.6,934.9 L881.8,932.5 L879.1,930.2 L876.3,927.8 L873.5,925.4 L870.8,923.0 L868.0,920.6 L865.2,918.1 L862.5,915.6 L859.7,913.1 L856.9,910.6 L854.2,908.1 L851.4,905.5 L848.6,902.9 L845.9,900.3 L843.1,897.7 L840.4,895.0 L837.6,892.3 L834.8,889.6 L832.1,886.8 L829.3,884.0 L826.5,881.2 L823.8,878.3 L821.0,875.4 L818.2,872.5 L815.5,869.6 L812.7,866.6 L810.0,863.7 L807.2,860.6 L804.4,857.6 L801.7,854.5 L798.9,851.4 L796.1,848.3 L793.4,845.2 L790.6,842.0 L787.8,838.8 L785.1,835.6 L782.3,832.4 L779.6,829.1 L776.8,825.9 L774.0,822.6 L771.3,819.2 L768.5,815.9 L765.7,812.5 L763.0,809.1 L760.2,805.6 L757.4,802.2 L754.7,798.7 L751.9,795.1 L749.1,791.6 L746.4,787.9 L743.6,784.3 L740.9,780.6 L738.1,776.9 L735.3,773.1 L732.6,769.3 L729.8,765.5 L727.0,761.6 L724.3,757.7 L721.5,753.7 L718.7,749.7 L716.0,745.6 L713.2,741.5 L710.5,737.3 L707.7,733.0 L704.9,728.7 L702.2,724.4 L699.4,720.0 L696.6,715.5 L693.9,711.0 L691.1,706.4 L688.3,701.7 L685.6,697.0 L682.8,692.3 L680.1,687.5 L677.3,682.6 L674.5,677.6 L671.8,672.6 L669.0,667.6 L666.2,662.5 L663.5,657.3 L660.7,652.1 L657.9,646.8 L655.2,641.4 L652.4,636.0 L649.7,630.6 L646.9,625.1 L644.1,619.5 L641.4,613.9 L638.6,608.2 L635.8,602.4 L633.1,596.6 L630.3,590.8 L627.5,584.8 L624.8,578.8 L622.0,572.8 L619.2,566.6 L616.5,560.4 L613.7,554.1 L611.0,547.7 L608.2,541.2 L605.4,534.7 L602.7,528.1 L599.9,521.3 L597.1,514.5 L594.4,507.6 L591.6,500.6 L588.8,493.5 L586.1,486.2 L583.3,478.9 L580.6,471.5 L577.8,463.9 L575.0,456.3 L572.3,448.5 L569.5,440.4 L566.7,432.2 L564.0,423.8 L561.2,415.3 L558.4,406.6 L555.7,397.7 L552.9,388.7 L550.2,379.5 L547.4,370.2 L544.6,360.7 L541.9,351.2 L539.1,341.5 L536.3,331.7 L533.6,321.8 L530.8,311.8 L528.0,301.6 L525.3,291.5 L522.5,281.2 L519.7,270.8 L517.0,260.4 L514.2,250.0 L511.5,239.4 L508.7,229.2 L505.9,219.1 L503.2,209.2 L500.4,199.3 L497.6,189.2 L494.9,178.7 L492.1,167.8 L489.3,156.2 L486.6,143.9 L483.8,130.6 L481.1,116.3 L478.3,100.7 L475.5,81.2 L472.8,61.2 L470.0,44.0Z" fill="#000"/>
<path d="M542.0,36.0 L550.0,36.0 L552.6,55.5 L555.1,73.5 L557.7,88.5 L560.3,100.3 L562.9,111.4 L565.4,121.9 L568.0,131.8 L570.6,141.1 L573.2,150.0 L575.7,158.4 L578.3,166.5 L580.9,174.3 L583.5,181.9 L586.0,189.3 L588.6,196.6 L591.2,203.9 L593.8,211.2 L596.3,218.6 L598.9,226.1 L601.5,233.9 L604.1,241.9 L606.6,250.2 L609.2,258.9 L611.8,267.6 L614.3,276.4 L616.9,285.2 L619.5,294.1 L622.1,302.9 L624.6,311.8 L627.2,320.6 L629.8,329.4 L632.4,338.1 L634.9,346.7 L637.5,355.2 L640.1,363.5 L642.7,371.8 L645.2,379.9 L647.8,387.9 L650.4,395.8 L653.0,403.6 L655.5,411.4 L658.1,419.1 L660.7,426.7 L663.3,434.3 L665.8,441.7 L668.4,449.1 L671.0,456.4 L673.5,463.7 L676.1,470.8 L678.7,477.9 L681.3,484.8 L683.8,491.7 L686.4,498.4 L689.0,505.0 L691.6,511.6 L694.1,518.1 L696.7,524.6 L699.3,531.1 L701.9,537.6 L704.4,544.2 L707.0,550.8 L709.6,557.3 L712.2,563.9 L714.7,570.5 L717.3,577.1 L719.9,583.6 L722.4,590.1 L725.0,596.5 L727.6,602.8 L730.2,609.0 L732.7,615.1 L735.3,621.1 L737.9,626.9 L740.5,632.6 L743.0,638.1 L745.6,643.4 L748.2,648.7 L750.8,653.9 L753.3,659.2 L755.9,664.6 L758.5,670.0 L761.1,675.4 L763.6,680.9 L766.2,686.3 L768.8,691.7 L771.4,697.2 L773.9,702.6 L776.5,708.0 L779.1,713.4 L781.6,718.8 L784.2,724.2 L786.8,729.4 L789.4,734.5 L791.9,739.5 L794.5,744.6 L797.1,749.5 L799.7,754.4 L802.2,759.3 L804.8,764.1 L807.4,768.9 L810.0,773.6 L812.5,778.2 L815.1,782.9 L817.7,787.4 L820.3,792.0 L822.8,796.5 L825.4,801.0 L828.0,805.5 L830.6,809.9 L833.1,814.4 L835.7,818.8 L838.3,823.2 L840.8,827.5 L843.4,831.9 L846.0,836.2 L848.6,840.5 L851.1,844.8 L853.7,849.0 L856.3,853.3 L858.9,857.5 L861.4,861.6 L864.0,865.8 L866.6,869.9 L869.2,874.1 L871.7,878.2 L874.3,882.2 L876.9,886.3 L879.5,890.3 L882.0,894.3 L884.6,898.2 L887.2,902.2 L889.8,906.1 L892.3,910.0 L894.9,913.8 L897.5,917.7 L900.0,921.5 L902.6,925.4 L905.2,929.2 L907.8,933.0 L910.3,936.7 L912.9,940.5 L915.5,944.3 L918.1,948.0 L920.6,951.7 L923.2,955.4 L925.8,959.1 L928.4,962.8 L930.9,966.4 L933.5,970.0 L936.1,973.7 L938.7,977.3 L941.2,980.8 L943.8,984.4 L946.4,987.9 L949.0,991.4 L951.5,994.9 L954.1,998.4 L956.7,1001.9 L959.2,1005.3 L961.8,1008.7 L964.4,1012.1 L967.0,1015.5 L969.5,1018.8 L972.1,1022.1 L974.7,1025.4 L977.3,1028.7 L979.8,1031.9 L982.4,1035.1 L985.0,1038.3 L987.6,1041.5 L990.1,1044.6 L992.7,1047.8 L995.3,1050.9 L997.9,1054.0 L1000.4,1057.0 L1003.0,1060.1 L1005.6,1063.1 L1008.2,1066.1 L1010.7,1069.1 L1013.3,1072.1 L1015.9,1075.0 L1018.4,1077.9 L1021.0,1080.9 L1023.6,1083.8 L1026.2,1086.7 L1028.7,1089.5 L1031.3,1092.4 L1033.9,1095.2 L1036.5,1098.0 L1039.0,1100.9 L1041.6,1103.7 L1044.2,1106.4 L1046.8,1109.2 L1049.3,1112.0 L1051.9,1114.7 L1054.5,1117.4 L1057.1,1120.2 L1059.6,1122.9 L1062.2,1125.6 L1064.8,1128.2 L1067.3,1130.9 L1069.9,1133.6 L1072.5,1136.2 L1075.1,1138.9 L1077.6,1141.5 L1080.2,1144.1 L1082.8,1146.7 L1085.4,1149.3 L1087.9,1151.9 L1090.5,1154.5 L1093.1,1157.1 L1095.7,1159.7 L1098.2,1162.2 L1100.8,1164.8 L1103.4,1167.3 L1106.0,1169.9 L1108.5,1172.4 L1111.1,1174.9 L1113.7,1177.4 L1116.3,1179.9 L1118.8,1182.3 L1121.4,1184.8 L1124.0,1187.3 L1126.5,1189.7 L1129.1,1192.1 L1131.7,1194.6 L1134.3,1197.0 L1136.8,1199.4 L1139.4,1201.8 L1142.0,1204.1 L1144.6,1206.5 L1147.1,1208.9 L1149.7,1211.2 L1152.3,1213.6 L1154.9,1215.9 L1157.4,1218.2 L1160.0,1220.5 L1162.6,1222.8 L1165.2,1225.1 L1167.7,1227.4 L1170.3,1229.7 L1172.9,1232.0 L1175.5,1234.2 L1178.0,1236.5 L1180.6,1238.7 L1183.2,1240.9 L1185.7,1243.2 L1188.3,1245.4 L1190.9,1247.6 L1193.5,1249.8 L1196.0,1252.0 L1198.6,1254.2 L1201.2,1256.4 L1203.8,1258.5 L1206.3,1260.7 L1208.9,1262.9 L1211.5,1265.0 L1214.1,1267.2 L1216.6,1269.3 L1219.2,1271.5 L1221.8,1273.6 L1224.4,1275.7 L1226.9,1277.8 L1229.5,1279.9 L1232.1,1282.0 L1234.7,1284.1 L1237.2,1286.2 L1239.8,1288.3 L1242.4,1290.3 L1244.9,1292.4 L1247.5,1294.4 L1250.1,1296.5 L1252.7,1298.5 L1255.2,1300.5 L1257.8,1302.5 L1260.4,1304.5 L1263.0,1306.5 L1265.5,1308.5 L1268.1,1310.4 L1270.7,1312.4 L1273.3,1314.3 L1275.8,1316.2 L1278.4,1318.1 L1281.0,1320.0 L1283.6,1321.9 L1286.1,1323.8 L1288.7,1325.7 L1291.3,1327.5 L1293.9,1329.4 L1296.4,1331.2 L1299.0,1333.0 L1301.6,1334.8 L1304.1,1336.6 L1306.7,1338.4 L1309.3,1340.2 L1311.9,1341.9 L1314.4,1343.7 L1317.0,1345.4 L1319.6,1347.2 L1322.2,1348.9 L1324.7,1350.6 L1327.3,1352.3 L1329.9,1354.0 L1332.5,1355.7 L1335.0,1357.4 L1337.6,1359.1 L1340.2,1360.7 L1342.8,1362.4 L1345.3,1364.1 L1347.9,1365.7 L1350.5,1367.4 L1353.1,1369.0 L1355.6,1370.6 L1358.2,1372.3 L1360.8,1373.9 L1363.3,1375.5 L1365.9,1377.1 L1368.5,1378.7 L1371.1,1380.3 L1373.6,1381.9 L1376.2,1383.5 L1378.8,1385.1 L1381.4,1386.7 L1383.9,1388.3 L1386.5,1389.9 L1389.1,1391.5 L1391.7,1393.1 L1394.2,1394.6 L1396.8,1396.2 L1399.4,1397.8 L1402.0,1399.3 L1404.5,1400.9 L1407.1,1402.5 L1409.7,1404.0 L1412.2,1405.6 L1414.8,1407.1 L1417.4,1408.6 L1420.0,1410.2 L1422.5,1411.7 L1425.1,1413.2 L1427.7,1414.7 L1430.3,1416.3 L1432.8,1417.8 L1435.4,1419.3 L1438.0,1420.8 L1440.6,1422.2 L1443.1,1423.7 L1445.7,1425.2 L1448.3,1426.7 L1450.9,1428.1 L1453.4,1429.6 L1456.0,1431.0 L1458.6,1432.5 L1461.2,1433.9 L1463.7,1435.3 L1466.3,1436.8 L1468.9,1438.2 L1471.4,1439.6 L1474.0,1441.0 L1476.6,1442.4 L1479.2,1443.7 L1481.7,1445.1 L1484.3,1446.5 L1486.9,1447.8 L1489.5,1449.2 L1492.0,1450.5 L1494.6,1451.8 L1497.2,1453.1 L1499.8,1454.4 L1502.3,1455.7 L1504.9,1457.0 L1507.5,1458.3 L1510.1,1459.6 L1512.6,1460.8 L1515.2,1462.1 L1517.8,1463.3 L1520.4,1464.5 L1522.9,1465.7 L1525.5,1466.9 L1525.5,1474.9 L1517.5,1474.9 L1514.9,1473.7 L1512.4,1472.5 L1509.8,1471.3 L1507.2,1470.1 L1504.6,1468.8 L1502.1,1467.6 L1499.5,1466.3 L1496.9,1465.0 L1494.3,1463.7 L1491.8,1462.4 L1489.2,1461.1 L1486.6,1459.8 L1484.0,1458.5 L1481.5,1457.2 L1478.9,1455.8 L1476.3,1454.5 L1473.7,1453.1 L1471.2,1451.7 L1468.6,1450.4 L1466.0,1449.0 L1463.4,1447.6 L1460.9,1446.2 L1458.3,1444.8 L1455.7,1443.3 L1453.2,1441.9 L1450.6,1440.5 L1448.0,1439.0 L1445.4,1437.6 L1442.9,1436.1 L1440.3,1434.7 L1437.7,1433.2 L1435.1,1431.7 L1432.6,1430.2 L1430.0,1428.8 L1427.4,1427.3 L1424.8,1425.8 L1422.3,1424.3 L1419.7,1422.7 L1417.1,1421.2 L1414.5,1419.7 L1412.0,1418.2 L1409.4,1416.6 L1406.8,1415.1 L1404.2,1413.6 L1401.7,1412.0 L1399.1,1410.5 L1396.5,1408.9 L1394.0,1407.3 L1391.4,1405.8 L1388.8,1404.2 L1386.2,1402.6 L1383.7,1401.1 L1381.1,1399.5 L1378.5,1397.9 L1375.9,1396.3 L1373.4,1394.7 L1370.8,1393.1 L1368.2,1391.5 L1365.6,1389.9 L1363.1,1388.3 L1360.5,1386.7 L1357.9,1385.1 L1355.3,1383.5 L1352.8,1381.9 L1350.2,1380.3 L1347.6,1378.6 L1345.1,1377.0 L1342.5,1375.4 L1339.9,1373.7 L1337.3,1372.1 L1334.8,1370.4 L1332.2,1368.7 L1329.6,1367.1 L1327.0,1365.4 L1324.5,1363.7 L1321.9,1362.0 L1319.3,1360.3 L1316.7,1358.6 L1314.2,1356.9 L1311.6,1355.2 L1309.0,1353.4 L1306.4,1351.7 L1303.9,1349.9 L1301.3,1348.2 L1298.7,1346.4 L1296.1,1344.6 L1293.6,1342.8 L1291.0,1341.0 L1288.4,1339.2 L1285.9,1337.4 L1283.3,1335.5 L1280.7,1333.7 L1278.1,1331.8 L1275.6,1329.9 L1273.0,1328.0 L1270.4,1326.1 L1267.8,1324.2 L1265.3,1322.3 L1262.7,1320.4 L1260.1,1318.4 L1257.5,1316.5 L1255.0,1314.5 L1252.4,1312.5 L1249.8,1310.5 L1247.2,1308.5 L1244.7,1306.5 L1242.1,1304.5 L1239.5,1302.4 L1236.9,1300.4 L1234.4,1298.3 L1231.8,1296.3 L1229.2,1294.2 L1226.7,1292.1 L1224.1,1290.0 L1221.5,1287.9 L1218.9,1285.8 L1216.4,1283.7 L1213.8,1281.6 L1211.2,1279.5 L1208.6,1277.3 L1206.1,1275.2 L1203.5,1273.0 L1200.9,1270.9 L1198.3,1268.7 L1195.8,1266.5 L1193.2,1264.4 L1190.6,1262.2 L1188.0,1260.0 L1185.5,1257.8 L1182.9,1255.6 L1180.3,1253.4 L1177.7,1251.2 L1175.2,1248.9 L1172.6,1246.7 L1170.0,1244.5 L1167.5,1242.2 L1164.9,1240.0 L1162.3,1237.7 L1159.7,1235.4 L1157.2,1233.1 L1154.6,1230.8 L1152.0,1228.5 L1149.4,1226.2 L1146.9,1223.9 L1144.3,1221.6 L1141.7,1219.2 L1139.1,1216.9 L1136.6,1214.5 L1134.0,1212.1 L1131.4,1209.8 L1128.8,1207.4 L1126.3,1205.0 L1123.7,1202.6 L1121.1,1200.1 L1118.5,1197.7 L1116.0,1195.3 L1113.4,1192.8 L1110.8,1190.3 L1108.3,1187.9 L1105.7,1185.4 L1103.1,1182.9 L1100.5,1180.4 L1098.0,1177.9 L1095.4,1175.3 L1092.8,1172.8 L1090.2,1170.2 L1087.7,1167.7 L1085.1,1165.1 L1082.5,1162.5 L1079.9,1159.9 L1077.4,1157.3 L1074.8,1154.7 L1072.2,1152.1 L1069.6,1149.5 L1067.1,1146.9 L1064.5,1144.2 L1061.9,1141.6 L1059.3,1138.9 L1056.8,1136.2 L1054.2,1133.6 L1051.6,1130.9 L1049.1,1128.2 L1046.5,1125.4 L1043.9,1122.7 L1041.3,1120.0 L1038.8,1117.2 L1036.2,1114.4 L1033.6,1111.7 L1031.0,1108.9 L1028.5,1106.0 L1025.9,1103.2 L1023.3,1100.4 L1020.7,1097.5 L1018.2,1094.7 L1015.6,1091.8 L1013.0,1088.9 L1010.4,1085.9 L1007.9,1083.0 L1005.3,1080.1 L1002.7,1077.1 L1000.2,1074.1 L997.6,1071.1 L995.0,1068.1 L992.4,1065.0 L989.9,1062.0 L987.3,1058.9 L984.7,1055.8 L982.1,1052.6 L979.6,1049.5 L977.0,1046.3 L974.4,1043.1 L971.8,1039.9 L969.3,1036.7 L966.7,1033.4 L964.1,1030.1 L961.5,1026.8 L959.0,1023.5 L956.4,1020.1 L953.8,1016.7 L951.2,1013.3 L948.7,1009.9 L946.1,1006.4 L943.5,1002.9 L941.0,999.4 L938.4,995.9 L935.8,992.4 L933.2,988.8 L930.7,985.3 L928.1,981.7 L925.5,978.0 L922.9,974.4 L920.4,970.8 L917.8,967.1 L915.2,963.4 L912.6,959.7 L910.1,956.0 L907.5,952.3 L904.9,948.5 L902.3,944.7 L899.8,941.0 L897.2,937.2 L894.6,933.4 L892.0,929.5 L889.5,925.7 L886.9,921.8 L884.3,918.0 L881.8,914.1 L879.2,910.2 L876.6,906.2 L874.0,902.3 L871.5,898.3 L868.9,894.3 L866.3,890.2 L863.7,886.2 L861.2,882.1 L858.6,877.9 L856.0,873.8 L853.4,869.6 L850.9,865.5 L848.3,861.3 L845.7,857.0 L843.1,852.8 L840.6,848.5 L838.0,844.2 L835.4,839.9 L832.8,835.5 L830.3,831.2 L827.7,826.8 L825.1,822.4 L822.6,817.9 L820.0,813.5 L817.4,809.0 L814.8,804.5 L812.3,800.0 L809.7,795.4 L807.1,790.9 L804.5,786.2 L802.0,781.6 L799.4,776.9 L796.8,772.1 L794.2,767.3 L791.7,762.4 L789.1,757.5 L786.5,752.6 L783.9,747.5 L781.4,742.5 L778.8,737.4 L776.2,732.2 L773.6,726.8 L771.1,721.4 L768.5,716.0 L765.9,710.6 L763.4,705.2 L760.8,699.7 L758.2,694.3 L755.6,688.9 L753.1,683.4 L750.5,678.0 L747.9,672.6 L745.3,667.2 L742.8,661.9 L740.2,656.7 L737.6,651.4 L735.0,646.1 L732.5,640.6 L729.9,634.9 L727.3,629.1 L724.7,623.1 L722.2,617.0 L719.6,610.8 L717.0,604.5 L714.4,598.1 L711.9,591.6 L709.3,585.1 L706.7,578.5 L704.2,571.9 L701.6,565.3 L699.0,558.8 L696.4,552.2 L693.9,545.6 L691.3,539.1 L688.7,532.6 L686.1,526.1 L683.6,519.6 L681.0,513.0 L678.4,506.4 L675.8,499.7 L673.3,492.8 L670.7,485.9 L668.1,478.8 L665.5,471.7 L663.0,464.4 L660.4,457.1 L657.8,449.7 L655.3,442.3 L652.7,434.7 L650.1,427.1 L647.5,419.4 L645.0,411.6 L642.4,403.8 L639.8,395.9 L637.2,387.9 L634.7,379.8 L632.1,371.5 L629.5,363.2 L626.9,354.7 L624.4,346.1 L621.8,337.4 L619.2,328.6 L616.6,319.8 L614.1,310.9 L611.5,302.1 L608.9,293.2 L606.3,284.4 L603.8,275.6 L601.2,266.9 L598.6,258.2 L596.1,249.9 L593.5,241.9 L590.9,234.1 L588.3,226.6 L585.8,219.2 L583.2,211.9 L580.6,204.6 L578.0,197.3 L575.5,189.9 L572.9,182.3 L570.3,174.5 L567.7,166.4 L565.2,158.0 L562.6,149.1 L560.0,139.8 L557.4,129.9 L554.9,119.4 L552.3,108.3 L549.7,96.5 L547.1,81.5 L544.6,63.5 L542.0,44.0Z" fill="#000"/>
<path d="M580.0,36.0 L588.0,36.0 L590.5,51.2 L592.9,68.6 L595.4,87.5 L597.9,101.9 L600.4,115.3 L602.8,127.8 L605.3,139.4 L607.8,150.5 L610.3,160.9 L612.7,170.8 L615.2,180.3 L617.7,189.5 L620.2,198.5 L622.6,207.4 L625.1,216.2 L627.6,225.2 L630.1,234.3 L632.5,243.7 L635.0,253.5 L637.5,263.4 L639.9,273.3 L642.4,283.1 L644.9,292.9 L647.4,302.6 L649.8,312.3 L652.3,321.9 L654.8,331.3 L657.3,340.6 L659.7,349.8 L662.2,358.9 L664.7,367.8 L667.2,376.5 L669.6,385.1 L672.1,393.4 L674.6,401.5 L677.1,409.4 L679.5,417.2 L682.0,424.9 L684.5,432.3 L686.9,439.6 L689.4,446.8 L691.9,454.0 L694.4,461.1 L696.8,468.2 L699.3,475.4 L701.8,482.7 L704.3,490.0 L706.7,497.2 L709.2,504.5 L711.7,511.7 L714.2,519.0 L716.6,526.3 L719.1,533.6 L721.6,541.0 L724.0,548.5 L726.5,556.2 L729.0,564.0 L731.5,571.7 L733.9,579.4 L736.4,586.9 L738.9,594.2 L741.4,601.1 L743.8,607.7 L746.3,613.7 L748.8,619.5 L751.3,625.2 L753.7,631.0 L756.2,636.6 L758.7,642.3 L761.2,647.9 L763.6,653.5 L766.1,659.2 L768.6,664.8 L771.0,670.5 L773.5,676.3 L776.0,682.1 L778.5,687.8 L780.9,693.6 L783.4,699.2 L785.9,704.8 L788.4,710.3 L790.8,715.7 L793.3,721.0 L795.8,726.2 L798.3,731.3 L800.7,736.4 L803.2,741.5 L805.7,746.5 L808.2,751.5 L810.6,756.4 L813.1,761.4 L815.6,766.3 L818.0,771.1 L820.5,776.0 L823.0,780.9 L825.5,785.8 L827.9,790.6 L830.4,795.5 L832.9,800.4 L835.4,805.3 L837.8,810.2 L840.3,815.1 L842.8,820.0 L845.3,824.9 L847.7,829.7 L850.2,834.6 L852.7,839.3 L855.2,844.1 L857.6,848.8 L860.1,853.5 L862.6,858.1 L865.0,862.6 L867.5,867.1 L870.0,871.5 L872.5,875.9 L874.9,880.2 L877.4,884.5 L879.9,888.7 L882.4,892.9 L884.8,897.1 L887.3,901.3 L889.8,905.4 L892.3,909.5 L894.7,913.6 L897.2,917.6 L899.7,921.6 L902.1,925.6 L904.6,929.6 L907.1,933.5 L909.6,937.4 L912.0,941.2 L914.5,945.0 L917.0,948.8 L919.5,952.5 L921.9,956.2 L924.4,959.9 L926.9,963.5 L929.4,967.1 L931.8,970.6 L934.3,974.1 L936.8,977.6 L939.3,981.0 L941.7,984.4 L944.2,987.8 L946.7,991.1 L949.1,994.4 L951.6,997.6 L954.1,1000.9 L956.6,1004.1 L959.0,1007.2 L961.5,1010.4 L964.0,1013.5 L966.5,1016.6 L968.9,1019.7 L971.4,1022.7 L973.9,1025.7 L976.4,1028.8 L978.8,1031.8 L981.3,1034.8 L983.8,1037.7 L986.3,1040.7 L988.7,1043.6 L991.2,1046.6 L993.7,1049.5 L996.1,1052.5 L998.6,1055.4 L1001.1,1058.3 L1003.6,1061.2 L1006.0,1064.1 L1008.5,1067.0 L1011.0,1069.9 L1013.5,1072.7 L1015.9,1075.5 L1018.4,1078.4 L1020.9,1081.2 L1023.4,1084.0 L1025.8,1086.7 L1028.3,1089.5 L1030.8,1092.3 L1033.3,1095.0 L1035.7,1097.7 L1038.2,1100.5 L1040.7,1103.2 L1043.1,1105.9 L1045.6,1108.6 L1048.1,1111.3 L1050.6,1113.9 L1053.0,1116.6 L1055.5,1119.3 L1058.0,1121.9 L1060.5,1124.6 L1062.9,1127.2 L1065.4,1129.9 L1067.9,1132.5 L1070.4,1135.2 L1072.8,1137.8 L1075.3,1140.4 L1077.8,1143.1 L1080.2,1145.7 L1082.7,1148.4 L1085.2,1151.0 L1087.7,1153.6 L1090.1,1156.2 L1092.6,1158.8 L1095.1,1161.3 L1097.6,1163.9 L1100.0,1166.4 L1102.5,1168.9 L1105.0,1171.4 L1107.5,1173.9 L1109.9,1176.3 L1112.4,1178.7 L1114.9,1181.1 L1117.4,1183.4 L1119.8,1185.7 L1122.3,1188.0 L1124.8,1190.2 L1127.2,1192.4 L1129.7,1194.7 L1132.2,1196.8 L1134.7,1199.0 L1137.1,1201.1 L1139.6,1203.3 L1142.1,1205.4 L1144.6,1207.5 L1147.0,1209.6 L1149.5,1211.6 L1152.0,1213.7 L1154.5,1215.8 L1156.9,1217.8 L1159.4,1219.8 L1161.9,1221.8 L1164.4,1223.9 L1166.8,1225.9 L1169.3,1227.9 L1171.8,1229.9 L1174.2,1231.9 L1176.7,1233.9 L1179.2,1235.9 L1181.7,1237.9 L1184.1,1239.9 L1186.6,1242.0 L1189.1,1244.0 L1191.6,1246.0 L1194.0,1248.0 L1196.5,1250.0 L1199.0,1252.0 L1201.5,1254.0 L1203.9,1256.0 L1206.4,1257.9 L1208.9,1259.9 L1211.4,1261.9 L1213.8,1263.8 L1216.3,1265.8 L1218.8,1267.7 L1221.2,1269.6 L1223.7,1271.6 L1226.2,1273.5 L1228.7,1275.4 L1231.1,1277.2 L1233.6,1279.1 L1236.1,1281.0 L1238.6,1282.8 L1241.0,1284.6 L1243.5,1286.4 L1246.0,1288.2 L1248.5,1290.0 L1250.9,1291.8 L1253.4,1293.5 L1255.9,1295.3 L1258.3,1297.0 L1260.8,1298.8 L1263.3,1300.5 L1265.8,1302.2 L1268.2,1303.9 L1270.7,1305.6 L1273.2,1307.2 L1275.7,1308.9 L1278.1,1310.6 L1280.6,1312.2 L1283.1,1313.9 L1285.6,1315.5 L1288.0,1317.1 L1290.5,1318.7 L1293.0,1320.3 L1295.5,1321.9 L1297.9,1323.5 L1300.4,1325.0 L1302.9,1326.6 L1305.3,1328.2 L1307.8,1329.7 L1310.3,1331.2 L1312.8,1332.8 L1315.2,1334.3 L1317.7,1335.8 L1320.2,1337.2 L1322.7,1338.7 L1325.1,1340.2 L1327.6,1341.6 L1330.1,1343.1 L1332.6,1344.5 L1335.0,1345.9 L1337.5,1347.3 L1340.0,1348.8 L1342.5,1350.2 L1344.9,1351.6 L1347.4,1353.0 L1349.9,1354.3 L1352.3,1355.7 L1354.8,1357.1 L1357.3,1358.5 L1359.8,1359.9 L1362.2,1361.3 L1364.7,1362.6 L1367.2,1364.0 L1369.7,1365.4 L1372.1,1366.8 L1374.6,1368.2 L1377.1,1369.5 L1379.6,1370.9 L1382.0,1372.3 L1384.5,1373.7 L1387.0,1375.1 L1389.5,1376.5 L1391.9,1377.9 L1394.4,1379.3 L1396.9,1380.7 L1399.3,1382.1 L1401.8,1383.4 L1404.3,1384.8 L1406.8,1386.2 L1409.2,1387.6 L1411.7,1388.9 L1414.2,1390.3 L1416.7,1391.7 L1419.1,1393.0 L1421.6,1394.4 L1424.1,1395.7 L1426.6,1397.0 L1429.0,1398.3 L1431.5,1399.6 L1434.0,1400.9 L1436.4,1402.2 L1438.9,1403.5 L1441.4,1404.8 L1443.9,1406.0 L1446.3,1407.3 L1448.8,1408.5 L1451.3,1409.7 L1453.8,1411.0 L1456.2,1412.2 L1458.7,1413.4 L1461.2,1414.6 L1463.7,1415.8 L1466.1,1417.0 L1468.6,1418.2 L1471.1,1419.4 L1473.6,1420.7 L1476.0,1421.9 L1478.5,1423.1 L1481.0,1424.3 L1483.4,1425.5 L1485.9,1426.8 L1488.4,1428.0 L1490.9,1429.2 L1493.3,1430.4 L1495.8,1431.6 L1498.3,1432.8 L1500.8,1433.9 L1503.2,1435.1 L1505.7,1436.2 L1508.2,1437.4 L1510.7,1438.5 L1513.1,1439.6 L1515.6,1440.7 L1518.1,1441.8 L1520.6,1442.8 L1523.0,1443.9 L1525.5,1444.9 L1525.5,1452.9 L1517.5,1452.9 L1515.0,1451.9 L1512.6,1450.8 L1510.1,1449.8 L1507.6,1448.7 L1505.1,1447.6 L1502.7,1446.5 L1500.2,1445.4 L1497.7,1444.2 L1495.2,1443.1 L1492.8,1441.9 L1490.3,1440.8 L1487.8,1439.6 L1485.3,1438.4 L1482.9,1437.2 L1480.4,1436.0 L1477.9,1434.8 L1475.4,1433.5 L1473.0,1432.3 L1470.5,1431.1 L1468.0,1429.9 L1465.6,1428.7 L1463.1,1427.4 L1460.6,1426.2 L1458.1,1425.0 L1455.7,1423.8 L1453.2,1422.6 L1450.7,1421.4 L1448.2,1420.2 L1445.8,1419.0 L1443.3,1417.7 L1440.8,1416.5 L1438.3,1415.3 L1435.9,1414.0 L1433.4,1412.8 L1430.9,1411.5 L1428.4,1410.2 L1426.0,1408.9 L1423.5,1407.6 L1421.0,1406.3 L1418.6,1405.0 L1416.1,1403.7 L1413.6,1402.4 L1411.1,1401.0 L1408.7,1399.7 L1406.2,1398.3 L1403.7,1396.9 L1401.2,1395.6 L1398.8,1394.2 L1396.3,1392.8 L1393.8,1391.4 L1391.3,1390.1 L1388.9,1388.7 L1386.4,1387.3 L1383.9,1385.9 L1381.5,1384.5 L1379.0,1383.1 L1376.5,1381.7 L1374.0,1380.3 L1371.6,1378.9 L1369.1,1377.5 L1366.6,1376.2 L1364.1,1374.8 L1361.7,1373.4 L1359.2,1372.0 L1356.7,1370.6 L1354.2,1369.3 L1351.8,1367.9 L1349.3,1366.5 L1346.8,1365.1 L1344.3,1363.7 L1341.9,1362.3 L1339.4,1361.0 L1336.9,1359.6 L1334.5,1358.2 L1332.0,1356.8 L1329.5,1355.3 L1327.0,1353.9 L1324.6,1352.5 L1322.1,1351.1 L1319.6,1349.6 L1317.1,1348.2 L1314.7,1346.7 L1312.2,1345.2 L1309.7,1343.8 L1307.2,1342.3 L1304.8,1340.8 L1302.3,1339.2 L1299.8,1337.7 L1297.3,1336.2 L1294.9,1334.6 L1292.4,1333.0 L1289.9,1331.5 L1287.5,1329.9 L1285.0,1328.3 L1282.5,1326.7 L1280.0,1325.1 L1277.6,1323.5 L1275.1,1321.9 L1272.6,1320.2 L1270.1,1318.6 L1267.7,1316.9 L1265.2,1315.2 L1262.7,1313.6 L1260.2,1311.9 L1257.8,1310.2 L1255.3,1308.5 L1252.8,1306.8 L1250.3,1305.0 L1247.9,1303.3 L1245.4,1301.5 L1242.9,1299.8 L1240.5,1298.0 L1238.0,1296.2 L1235.5,1294.4 L1233.0,1292.6 L1230.6,1290.8 L1228.1,1289.0 L1225.6,1287.1 L1223.1,1285.2 L1220.7,1283.4 L1218.2,1281.5 L1215.7,1279.6 L1213.2,1277.6 L1210.8,1275.7 L1208.3,1273.8 L1205.8,1271.8 L1203.4,1269.9 L1200.9,1267.9 L1198.4,1265.9 L1195.9,1264.0 L1193.5,1262.0 L1191.0,1260.0 L1188.5,1258.0 L1186.0,1256.0 L1183.6,1254.0 L1181.1,1252.0 L1178.6,1250.0 L1176.1,1247.9 L1173.7,1245.9 L1171.2,1243.9 L1168.7,1241.9 L1166.2,1239.9 L1163.8,1237.9 L1161.3,1235.9 L1158.8,1233.9 L1156.4,1231.9 L1153.9,1229.8 L1151.4,1227.8 L1148.9,1225.8 L1146.5,1223.8 L1144.0,1221.7 L1141.5,1219.6 L1139.0,1217.6 L1136.6,1215.5 L1134.1,1213.4 L1131.6,1211.3 L1129.1,1209.1 L1126.7,1207.0 L1124.2,1204.8 L1121.7,1202.7 L1119.2,1200.4 L1116.8,1198.2 L1114.3,1196.0 L1111.8,1193.7 L1109.4,1191.4 L1106.9,1189.1 L1104.4,1186.7 L1101.9,1184.3 L1099.5,1181.9 L1097.0,1179.4 L1094.5,1176.9 L1092.0,1174.4 L1089.6,1171.9 L1087.1,1169.3 L1084.6,1166.8 L1082.1,1164.2 L1079.7,1161.6 L1077.2,1159.0 L1074.7,1156.4 L1072.2,1153.7 L1069.8,1151.1 L1067.3,1148.4 L1064.8,1145.8 L1062.4,1143.2 L1059.9,1140.5 L1057.4,1137.9 L1054.9,1135.2 L1052.5,1132.6 L1050.0,1129.9 L1047.5,1127.3 L1045.0,1124.6 L1042.6,1121.9 L1040.1,1119.3 L1037.6,1116.6 L1035.1,1113.9 L1032.7,1111.2 L1030.2,1108.5 L1027.7,1105.7 L1025.3,1103.0 L1022.8,1100.3 L1020.3,1097.5 L1017.8,1094.7 L1015.4,1092.0 L1012.9,1089.2 L1010.4,1086.4 L1007.9,1083.5 L1005.5,1080.7 L1003.0,1077.9 L1000.5,1075.0 L998.0,1072.1 L995.6,1069.2 L993.1,1066.3 L990.6,1063.4 L988.1,1060.5 L985.7,1057.5 L983.2,1054.6 L980.7,1051.6 L978.3,1048.7 L975.8,1045.7 L973.3,1042.8 L970.8,1039.8 L968.4,1036.8 L965.9,1033.7 L963.4,1030.7 L960.9,1027.7 L958.5,1024.6 L956.0,1021.5 L953.5,1018.4 L951.0,1015.2 L948.6,1012.1 L946.1,1008.9 L943.6,1005.6 L941.1,1002.4 L938.7,999.1 L936.2,995.8 L933.7,992.4 L931.3,989.0 L928.8,985.6 L926.3,982.1 L923.8,978.6 L921.4,975.1 L918.9,971.5 L916.4,967.9 L913.9,964.2 L911.5,960.5 L909.0,956.8 L906.5,953.0 L904.0,949.2 L901.6,945.4 L899.1,941.5 L896.6,937.6 L894.1,933.6 L891.7,929.6 L889.2,925.6 L886.7,921.6 L884.3,917.5 L881.8,913.4 L879.3,909.3 L876.8,905.1 L874.4,900.9 L871.9,896.7 L869.4,892.5 L866.9,888.2 L864.5,883.9 L862.0,879.5 L859.5,875.1 L857.0,870.6 L854.6,866.1 L852.1,861.5 L849.6,856.8 L847.2,852.1 L844.7,847.3 L842.2,842.6 L839.7,837.7 L837.3,832.9 L834.8,828.0 L832.3,823.1 L829.8,818.2 L827.4,813.3 L824.9,808.4 L822.4,803.5 L819.9,798.6 L817.5,793.8 L815.0,788.9 L812.5,784.0 L810.0,779.1 L807.6,774.3 L805.1,769.4 L802.6,764.4 L800.2,759.5 L797.7,754.5 L795.2,749.5 L792.7,744.4 L790.3,739.3 L787.8,734.2 L785.3,729.0 L782.8,723.7 L780.4,718.3 L777.9,712.8 L775.4,707.2 L772.9,701.6 L770.5,695.8 L768.0,690.1 L765.5,684.3 L763.0,678.5 L760.6,672.8 L758.1,667.2 L755.6,661.5 L753.2,655.9 L750.7,650.3 L748.2,644.6 L745.7,639.0 L743.3,633.2 L740.8,627.5 L738.3,621.7 L735.8,615.7 L733.4,609.1 L730.9,602.2 L728.4,594.9 L725.9,587.4 L723.5,579.7 L721.0,572.0 L718.5,564.2 L716.0,556.5 L713.6,549.0 L711.1,541.6 L708.6,534.3 L706.2,527.0 L703.7,519.7 L701.2,512.5 L698.7,505.2 L696.3,498.0 L693.8,490.7 L691.3,483.4 L688.8,476.2 L686.4,469.1 L683.9,462.0 L681.4,454.8 L678.9,447.6 L676.5,440.3 L674.0,432.9 L671.5,425.2 L669.1,417.4 L666.6,409.5 L664.1,401.4 L661.6,393.1 L659.2,384.5 L656.7,375.8 L654.2,366.9 L651.7,357.8 L649.3,348.6 L646.8,339.3 L644.3,329.9 L641.8,320.3 L639.4,310.6 L636.9,300.9 L634.4,291.1 L631.9,281.3 L629.5,271.4 L627.0,261.5 L624.5,251.7 L622.1,242.3 L619.6,233.2 L617.1,224.2 L614.6,215.4 L612.2,206.5 L609.7,197.5 L607.2,188.3 L604.7,178.8 L602.3,168.9 L599.8,158.5 L597.3,147.4 L594.8,135.8 L592.4,123.3 L589.9,109.9 L587.4,95.5 L584.9,76.6 L582.5,59.2 L580.0,44.0Z" fill="#000"/>
<rect x="513.50" y="380.50" width="47" height="47" fill="#000"/>
<rect x="556.00" y="378.30" width="2.5" height="2.2" fill="#000"/>
<rect x="511.90" y="380.50" width="1.6" height="2.5" fill="#000"/>
<rect x="588.90" y="539.50" width="47" height="47" fill="#000"/>
<rect x="631.40" y="537.30" width="2.5" height="2.2" fill="#000"/>
<rect x="587.30" y="539.50" width="1.6" height="2.5" fill="#000"/>
<rect x="664.50" y="666.50" width="47" height="47" fill="#000"/>
<rect x="707.00" y="664.30" width="2.5" height="2.2" fill="#000"/>
<rect x="662.90" y="666.50" width="1.6" height="2.5" fill="#000"/>
<rect x="727.25" y="754.75" width="47" height="47" fill="#000"/>
<rect x="769.75" y="752.55" width="2.5" height="2.2" fill="#000"/>
<rect x="725.65" y="754.75" width="1.6" height="2.5" fill="#000"/>
<rect x="804.25" y="843.25" width="47" height="47" fill="#000"/>
<rect x="846.75" y="841.05" width="2.5" height="2.2" fill="#000"/>
<rect x="802.65" y="843.25" width="1.6" height="2.5" fill="#000"/>
<rect x="877.75" y="916.75" width="47" height="47" fill="#000"/>
<rect x="920.25" y="914.55" width="2.5" height="2.2" fill="#000"/>
<rect x="876.15" y="916.75" width="1.6" height="2.5" fill="#000"/>
<rect x="952.50" y="978.25" width="47" height="47" fill="#000"/>
<rect x="995.00" y="976.05" width="2.5" height="2.2" fill="#000"/>
<rect x="950.90" y="978.25" width="1.6" height="2.5" fill="#000"/>
<rect x="1027.50" y="1032.50" width="47" height="47" fill="#000"/>
<rect x="1070.00" y="1030.30" width="2.5" height="2.2" fill="#000"/>
<rect x="1025.90" y="1032.50" width="1.6" height="2.5" fill="#000"/>
<rect x="1102.00" y="1077.75" width="47" height="47" fill="#000"/>
<rect x="1144.50" y="1075.55" width="2.5" height="2.2" fill="#000"/>
<rect x="1100.40" y="1077.75" width="1.6" height="2.5" fill="#000"/>
<rect x="1178.25" y="1119.25" width="47" height="47" fill="#000"/>
<rect x="1220.75" y="1117.05" width="2.5" height="2.2" fill="#000"/>
<rect x="1176.65" y="1119.25" width="1.6" height="2.5" fill="#000"/>
<rect x="1252.90" y="1155.75" width="47" height="47" fill="#000"/>
<rect x="1295.40" y="1153.55" width="2.5" height="2.2" fill="#000"/>
<rect x="1251.30" y="1155.75" width="1.6" height="2.5" fill="#000"/>
<rect x="1316.75" y="1183.75" width="47" height="47" fill="#000"/>
<rect x="1359.25" y="1181.55" width="2.5" height="2.2" fill="#000"/>
<rect x="1315.15" y="1183.75" width="1.6" height="2.5" fill="#000"/>
<rect x="1391.75" y="1212.75" width="47" height="47" fill="#000"/>
<rect x="1434.25" y="1210.55" width="2.5" height="2.2" fill="#000"/>
<rect x="1390.15" y="1212.75" width="1.6" height="2.5" fill="#000"/>
<rect x="1466.50" y="1238.50" width="47" height="47" fill="#000"/>
<rect x="1509.00" y="1236.30" width="2.5" height="2.2" fill="#000"/>
<rect x="1464.90" y="1238.50" width="1.6" height="2.5" fill="#000"/>
<circle cx="516.00" cy="237.50" r="22.6" fill="#000"/>
<circle cx="580.00" cy="455.00" r="22.6" fill="#000"/>
<circle cx="654.75" cy="628.75" r="22.6" fill="#000"/>
<circle cx="718.75" cy="739.75" r="22.6" fill="#000"/>
<circle cx="793.50" cy="836.75" r="22.6" fill="#000"/>
<circle cx="857.00" cy="903.00" r="22.6" fill="#000"/>
<circle cx="932.25" cy="965.00" r="22.6" fill="#000"/>
<circle cx="998.50" cy="1007.75" r="22.6" fill="#000"/>
<circle cx="1072.50" cy="1051.25" r="22.6" fill="#000"/>
<circle cx="1147.25" cy="1088.50" r="22.6" fill="#000"/>
<circle cx="1211.75" cy="1114.00" r="22.6" fill="#000"/>
<circle cx="1285.75" cy="1141.50" r="22.6" fill="#000"/>
<circle cx="1350.00" cy="1162.25" r="22.6" fill="#000"/>
<circle cx="1424.50" cy="1183.50" r="22.6" fill="#000"/>
<circle cx="1488.75" cy="1200.75" r="22.6" fill="#000"/>
</g>
<rect x="175" y="89" width="560" height="166.5" fill="#fff"/>
<rect x="790.5" y="150" width="850" height="642" fill="#fff"/>
<g shape-rendering="crispEdges" fill="#000">
<rect x="135" y="72" width="1527" height="3"/>
<rect x="135" y="1570" width="1527" height="3"/>
<rect x="161" y="70" width="2.2" height="1531"/>
<rect x="1659" y="70" width="3" height="1531"/>
<path d="M1662,72 L1664,73.5 L1662,75 Z M1662,1570 L1664,1571.5 L1662,1573 Z"/>
<rect x="147" y="1532.88" width="15" height="3"/>
<rect x="147" y="1510.90" width="15" height="3"/>
<rect x="147" y="1495.30" width="15" height="3"/>
<rect x="147" y="1483.20" width="15" height="3"/>
<rect x="147" y="1473.32" width="15" height="3"/>
<rect x="147" y="1464.96" width="15" height="3"/>
<rect x="147" y="1457.73" width="15" height="3"/>
<rect x="147" y="1451.34" width="15" height="3"/>
<rect x="135" y="1445.33" width="27" height="3"/>
<rect x="147" y="1408.05" width="15" height="3"/>
<rect x="147" y="1386.07" width="15" height="3"/>
<rect x="147" y="1370.48" width="15" height="3"/>
<rect x="147" y="1358.38" width="15" height="3"/>
<rect x="147" y="1348.50" width="15" height="3"/>
<rect x="147" y="1340.14" width="15" height="3"/>
<rect x="147" y="1332.90" width="15" height="3"/>
<rect x="147" y="1326.52" width="15" height="3"/>
<rect x="135" y="1320.51" width="27" height="3"/>
<rect x="147" y="1283.23" width="15" height="3"/>
<rect x="147" y="1261.25" width="15" height="3"/>
<rect x="147" y="1245.66" width="15" height="3"/>
<rect x="147" y="1233.56" width="15" height="3"/>
<rect x="147" y="1223.68" width="15" height="3"/>
<rect x="147" y="1215.32" width="15" height="3"/>
<rect x="147" y="1208.08" width="15" height="3"/>
<rect x="147" y="1201.70" width="15" height="3"/>
<rect x="135" y="1195.69" width="27" height="3"/>
<rect x="147" y="1158.41" width="15" height="3"/>
<rect x="147" y="1136.43" width="15" height="3"/>
<rect x="147" y="1120.84" width="15" height="3"/>
<rect x="147" y="1108.74" width="15" height="3"/>
<rect x="147" y="1098.86" width="15" height="3"/>
<rect x="147" y="1090.50" width="15" height="3"/>
<rect x="147" y="1083.26" width="15" height="3"/>
<rect x="147" y="1076.88" width="15" height="3"/>
<rect x="135" y="1070.87" width="27" height="3"/>
<rect x="147" y="1033.59" width="15" height="3"/>
<rect x="147" y="1011.61" width="15" height="3"/>
<rect x="147" y="996.02" width="15" height="3"/>
<rect x="147" y="983.92" width="15" height="3"/>
<rect x="147" y="974.04" width="15" height="3"/>
<rect x="147" y="965.68" width="15" height="3"/>
<rect x="147" y="958.44" width="15" height="3"/>
<rect x="147" y="952.06" width="15" height="3"/>
<rect x="135" y="946.05" width="27" height="3"/>
<rect x="147" y="908.77" width="15" height="3"/>
<rect x="147" y="886.79" width="15" height="3"/>
<rect x="147" y="871.20" width="15" height="3"/>
<rect x="147" y="859.10" width="15" height="3"/>
<rect x="147" y="849.22" width="15" height="3"/>
<rect x="147" y="840.86" width="15" height="3"/>
<rect x="147" y="833.62" width="15" height="3"/>
<rect x="147" y="827.24" width="15" height="3"/>
<rect x="135" y="821.22" width="27" height="3"/>
<rect x="147" y="783.95" width="15" height="3"/>
<rect x="147" y="761.97" width="15" height="3"/>
<rect x="147" y="746.38" width="15" height="3"/>
<rect x="147" y="734.28" width="15" height="3"/>
<rect x="147" y="724.40" width="15" height="3"/>
<rect x="147" y="716.04" width="15" height="3"/>
<rect x="147" y="708.80" width="15" height="3"/>
<rect x="147" y="702.42" width="15" height="3"/>
<rect x="135" y="696.40" width="27" height="3"/>
<rect x="147" y="659.13" width="15" height="3"/>
<rect x="147" y="637.15" width="15" height="3"/>
<rect x="147" y="621.55" width="15" height="3"/>
<rect x="147" y="609.46" width="15" height="3"/>
<rect x="147" y="599.57" width="15" height="3"/>
<rect x="147" y="591.22" width="15" height="3"/>
<rect x="147" y="583.98" width="15" height="3"/>
<rect x="147" y="577.59" width="15" height="3"/>
<rect x="135" y="571.58" width="27" height="3"/>
<rect x="147" y="534.31" width="15" height="3"/>
<rect x="147" y="512.33" width="15" height="3"/>
<rect x="147" y="496.73" width="15" height="3"/>
<rect x="147" y="484.64" width="15" height="3"/>
<rect x="147" y="474.75" width="15" height="3"/>
<rect x="147" y="466.40" width="15" height="3"/>
<rect x="147" y="459.16" width="15" height="3"/>
<rect x="147" y="452.77" width="15" height="3"/>
<rect x="135" y="446.76" width="27" height="3"/>
<rect x="147" y="409.49" width="15" height="3"/>
<rect x="147" y="387.51" width="15" height="3"/>
<rect x="147" y="371.91" width="15" height="3"/>
<rect x="147" y="359.82" width="15" height="3"/>
<rect x="147" y="349.93" width="15" height="3"/>
<rect x="147" y="341.58" width="15" height="3"/>
<rect x="147" y="334.34" width="15" height="3"/>
<rect x="147" y="327.95" width="15" height="3"/>
<rect x="135" y="321.94" width="27" height="3"/>
<rect x="147" y="284.67" width="15" height="3"/>
<rect x="147" y="262.69" width="15" height="3"/>
<rect x="147" y="247.09" width="15" height="3"/>
<rect x="147" y="235.00" width="15" height="3"/>
<rect x="147" y="225.11" width="15" height="3"/>
<rect x="147" y="216.76" width="15" height="3"/>
<rect x="147" y="209.52" width="15" height="3"/>
<rect x="147" y="203.13" width="15" height="3"/>
<rect x="135" y="197.12" width="27" height="3"/>
<rect x="147" y="159.85" width="15" height="3"/>
<rect x="147" y="137.87" width="15" height="3"/>
<rect x="147" y="122.27" width="15" height="3"/>
<rect x="147" y="110.17" width="15" height="3"/>
<rect x="147" y="100.29" width="15" height="3"/>
<rect x="147" y="91.93" width="15" height="3"/>
<rect x="147" y="84.70" width="15" height="3"/>
<rect x="147" y="78.31" width="15" height="3"/>
<rect x="214.06" y="1571" width="2.8" height="16"/>
<rect x="267.58" y="1571" width="2.8" height="16"/>
<rect x="321.09" y="1571" width="2.8" height="16"/>
<rect x="374.60" y="1571" width="2.8" height="30"/>
<rect x="428.11" y="1571" width="2.8" height="16"/>
<rect x="481.63" y="1571" width="2.8" height="16"/>
<rect x="535.14" y="1571" width="2.8" height="16"/>
<rect x="588.65" y="1571" width="2.8" height="30"/>
<rect x="642.16" y="1571" width="2.8" height="16"/>
<rect x="695.67" y="1571" width="2.8" height="16"/>
<rect x="749.19" y="1571" width="2.8" height="16"/>
<rect x="802.70" y="1571" width="2.8" height="30"/>
<rect x="856.21" y="1571" width="2.8" height="16"/>
<rect x="909.72" y="1571" width="2.8" height="16"/>
<rect x="963.24" y="1571" width="2.8" height="16"/>
<rect x="1016.75" y="1571" width="2.8" height="30"/>
<rect x="1070.26" y="1571" width="2.8" height="16"/>
<rect x="1123.77" y="1571" width="2.8" height="16"/>
<rect x="1177.29" y="1571" width="2.8" height="16"/>
<rect x="1230.80" y="1571" width="2.8" height="30"/>
<rect x="1284.31" y="1571" width="2.8" height="16"/>
<rect x="1337.83" y="1571" width="2.8" height="16"/>
<rect x="1391.34" y="1571" width="2.8" height="16"/>
<rect x="1444.85" y="1571" width="2.8" height="30"/>
<rect x="1498.36" y="1571" width="2.8" height="16"/>
<rect x="1551.88" y="1571" width="2.8" height="16"/>
<rect x="1605.39" y="1571" width="2.8" height="16"/>
</g>
<text transform="matrix(1 0 0 1.04 0 -3.792)"><tspan x="27.30 63.00" y="94.80" font-size="75">10</tspan><tspan x="100.00" y="57.97" font-size="47.8">7</tspan></text>
<text transform="matrix(1 0 0 1.04 0 -13.778)"><tspan x="27.30 63.00" y="344.44" font-size="75">10</tspan><tspan x="100.00" y="307.61" font-size="47.8">5</tspan></text>
<text transform="matrix(1 0 0 1.04 0 -23.763)"><tspan x="27.30 63.00" y="594.08" font-size="75">10</tspan><tspan x="100.00" y="557.26" font-size="47.8">3</tspan></text>
<text transform="matrix(1 0 0 1.04 0 -33.749)"><tspan x="27.30 63.00" y="843.72" font-size="75">10</tspan><tspan x="100.00" y="806.90" font-size="47.8">1</tspan></text>
<text transform="matrix(1 0 0 1.04 0 -43.735)"><tspan x="11.00 46.70" y="1093.37" font-size="75">10</tspan><tspan x="87.00" y="1056.54" font-size="47.8">-1</tspan></text>
<text transform="matrix(1 0 0 1.04 0 -53.720)"><tspan x="11.00 46.70" y="1343.01" font-size="75">10</tspan><tspan x="87.00" y="1306.18" font-size="47.8">-3</tspan></text>
<text transform="matrix(1 0 0 1.04 0 -63.706)"><tspan x="11.00 46.70" y="1592.65" font-size="75">10</tspan><tspan x="87.00" y="1555.82" font-size="47.8">-5</tspan></text>
<text x="162.15" y="1676.5" font-size="75" text-anchor="middle" transform="matrix(1 0 0 1.035 0 -58.677)">60</text>
<text x="376.20" y="1676.5" font-size="75" text-anchor="middle" transform="matrix(1 0 0 1.035 0 -58.677)">80</text>
<text x="590.25" y="1676.5" font-size="75" text-anchor="middle" transform="matrix(1 0 0 1.035 0 -58.677)">100</text>
<text x="804.30" y="1676.5" font-size="75" text-anchor="middle" transform="matrix(1 0 0 1.035 0 -58.677)">120</text>
<text x="1018.35" y="1676.5" font-size="75" text-anchor="middle" transform="matrix(1 0 0 1.035 0 -58.677)">140</text>
<text x="1232.40" y="1676.5" font-size="75" text-anchor="middle" transform="matrix(1 0 0 1.035 0 -58.677)">160</text>
<text x="1446.45" y="1676.5" font-size="75" text-anchor="middle" transform="matrix(1 0 0 1.035 0 -58.677)">180</text>
<text x="1660.50" y="1676.5" font-size="75" text-anchor="middle" transform="matrix(1 0 0 1.035 0 -58.677)">200</text>
<text x="1112" y="1535.5" font-size="75" letter-spacing="0.2" transform="matrix(1 0 0 1.035 0 -53.742)">Temperature (°C)</text>
<text transform="matrix(1 0 0 1.04 0 -7.820)"><tspan x="190.00" y="195.50" font-size="75">a</tspan><tspan x="223.00" y="158.00" font-size="47.8">T</tspan><tspan x="254.50 284.72 300.78 324.28 351.28" y="231.56" font-size="47.8">T/130 </tspan><tspan x="388.50" y="195.50" font-size="75">&amp; </tspan><tspan x="469.00" y="195.50" font-size="75">a</tspan><tspan x="501.50" y="158.00" font-size="47.8">S</tspan><tspan x="528.50 558.72 574.78 598.28 625.28" y="231.56" font-size="47.8">T/130</tspan></text>
<g shape-rendering="crispEdges">
<rect x="820" y="199.75" width="149" height="8"/>
<circle cx="895.8" cy="203.75" r="22.6" fill="#000"/>
</g>
<text transform="matrix(1 0 0 1.04 0 -10.088)"><tspan x="982.50" y="252.20" font-size="75">a</tspan><tspan x="1016.00" y="215.18" font-size="47.8">T</tspan><tspan x="1047.00 1077.22 1093.28 1116.78 1143.78" y="289.12" font-size="47.8">T/130 </tspan><tspan x="1182.00 1224.20 1289.88 1356.05 1411.70 1432.45 1468.45" y="252.20" font-size="75">PMMA 80</tspan></text>
<g shape-rendering="crispEdges">
<rect x="820" y="354.20" width="149" height="8"/>
<rect x="872.5" y="335.50" width="47" height="47" fill="#000"/>
<rect x="915.00" y="333.30" width="2.5" height="2.2" fill="#000"/>
</g>
<text transform="matrix(1 0 0 1.04 0 -16.280)"><tspan x="982.50" y="407.00" font-size="75">a</tspan><tspan x="1016.00" y="369.98" font-size="47.8">S</tspan><tspan x="1044.00 1074.22 1090.28 1113.78 1140.78" y="443.92" font-size="47.8">T/130 </tspan><tspan x="1179.00 1221.20 1286.88 1353.05 1408.70 1429.45 1465.45" y="407.00" font-size="75">PMMA 80</tspan></text>
<g shape-rendering="crispEdges">
<ellipse cx="895.60" cy="512.45" rx="20.45" ry="21" fill="none" stroke="#000" stroke-width="2.9"/>
<rect x="820" y="508.00" width="149" height="8"/>
</g>
<text transform="matrix(1 0 0 1.04 0 -22.424)"><tspan x="982.50" y="560.60" font-size="75">a</tspan><tspan x="1016.00" y="523.58" font-size="47.8">T</tspan><tspan x="1047.00 1077.22 1093.28 1116.78 1143.78" y="597.52" font-size="47.8">T/130 </tspan><tspan x="1182.00 1224.20 1289.88 1356.05 1411.70 1430.95 1467.45 1505.45 1542.45" y="560.60" font-size="75">PMMA 3500</tspan></text>
<g shape-rendering="crispEdges">
<path d="M878.00,650.00 H912.00 V684.00 H878.00 Z M880.80,652.80 V681.20 H909.20 V652.80 Z M909.20,648.00 h2.80 v2 h-2.80 Z M912.00,681.20 h2 v2.80 h-2 Z M878.00,684.00 h2.80 v1 h-2.80 Z M877.00,650.00 h1 v2.80 h-1 Z" fill="#000" fill-rule="evenodd"/>
<rect x="820" y="663.00" width="149" height="8"/>
</g>
<text transform="matrix(1 0 0 1.04 0 -28.612)"><tspan x="982.50" y="715.30" font-size="75">a</tspan><tspan x="1016.00" y="678.28" font-size="47.8">S</tspan><tspan x="1044.00 1074.22 1090.28 1113.78 1140.78" y="752.22" font-size="47.8">T/130 </tspan><tspan x="1179.00 1221.20 1286.88 1353.05 1408.70 1427.95 1464.45 1502.45 1539.45" y="715.30" font-size="75">PMMA 3500</tspan></text>
</svg></body></html>
